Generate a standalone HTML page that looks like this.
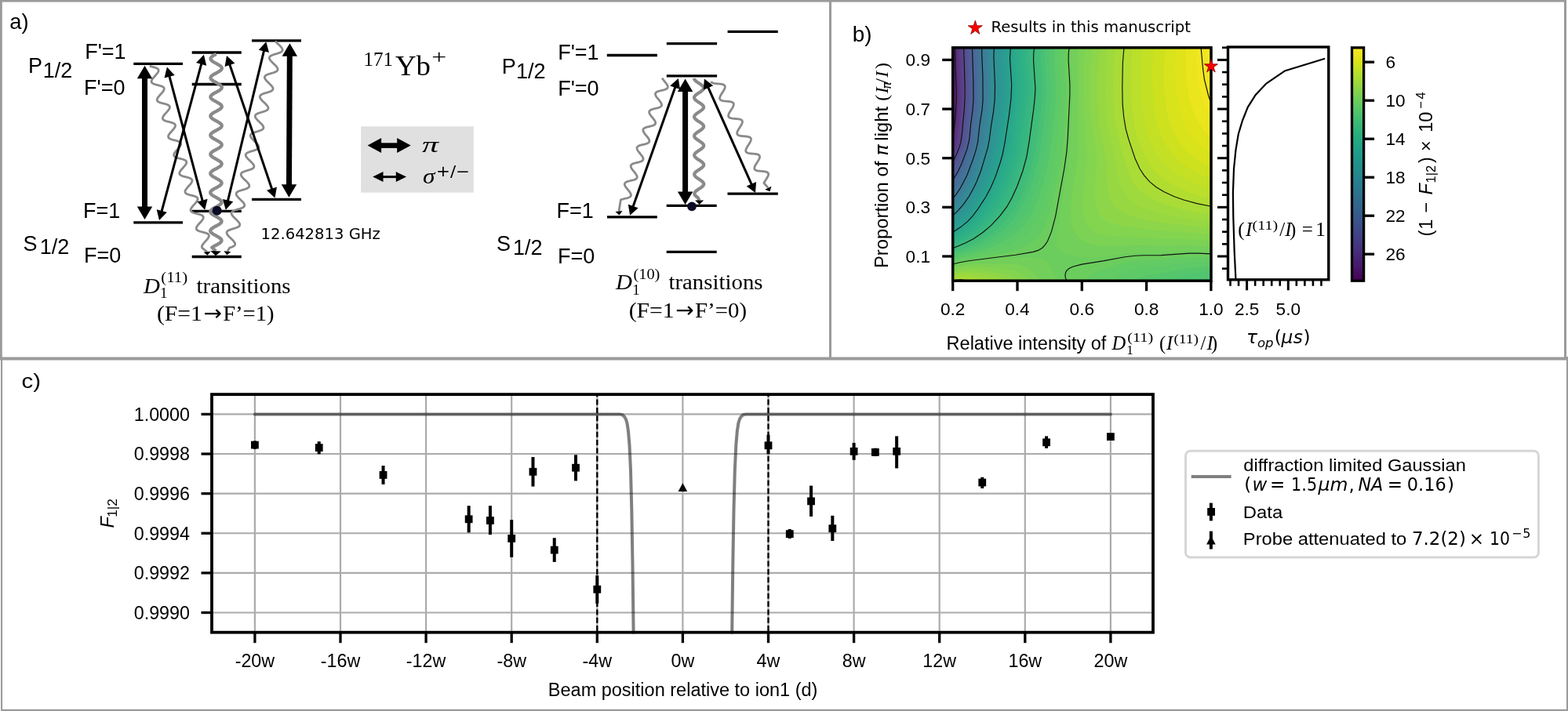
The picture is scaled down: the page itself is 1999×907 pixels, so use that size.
<!DOCTYPE html>
<html><head><meta charset="utf-8"><title>Figure</title>
<style>html,body{margin:0;padding:0;background:#fff;} svg{display:block;}</style>
</head><body>
<svg width="1999" height="907" viewBox="0 0 1999 907">
<rect x="0.00" y="0.00" width="1997.00" height="2.60" fill="#9b9b9b" stroke="none" stroke-width="0" />
<rect x="0.00" y="0.00" width="2.80" height="459.00" fill="#9b9b9b" stroke="none" stroke-width="0" />
<rect x="1057.00" y="0.00" width="3.00" height="459.00" fill="#9b9b9b" stroke="none" stroke-width="0" />
<rect x="1994.00" y="0.00" width="3.00" height="459.00" fill="#9b9b9b" stroke="none" stroke-width="0" />
<rect x="0.00" y="455.50" width="1999.00" height="4.00" fill="#9b9b9b" stroke="none" stroke-width="0" />
<rect x="1.00" y="455.00" width="2.10" height="452.00" fill="#9b9b9b" stroke="none" stroke-width="0" />
<rect x="1997.00" y="455.00" width="2.00" height="452.00" fill="#9b9b9b" stroke="none" stroke-width="0" />
<rect x="1.00" y="904.80" width="1998.00" height="2.20" fill="#9b9b9b" stroke="none" stroke-width="0" />
<line x1="324.90" y1="503.10" x2="324.90" y2="806.70" stroke="#ababab" stroke-width="2.2" />
<line x1="434.00" y1="503.10" x2="434.00" y2="806.70" stroke="#ababab" stroke-width="2.2" />
<line x1="543.10" y1="503.10" x2="543.10" y2="806.70" stroke="#ababab" stroke-width="2.2" />
<line x1="652.20" y1="503.10" x2="652.20" y2="806.70" stroke="#ababab" stroke-width="2.2" />
<line x1="761.30" y1="503.10" x2="761.30" y2="806.70" stroke="#ababab" stroke-width="2.2" />
<line x1="870.40" y1="503.10" x2="870.40" y2="806.70" stroke="#ababab" stroke-width="2.2" />
<line x1="979.50" y1="503.10" x2="979.50" y2="806.70" stroke="#ababab" stroke-width="2.2" />
<line x1="1088.60" y1="503.10" x2="1088.60" y2="806.70" stroke="#ababab" stroke-width="2.2" />
<line x1="1197.70" y1="503.10" x2="1197.70" y2="806.70" stroke="#ababab" stroke-width="2.2" />
<line x1="1306.80" y1="503.10" x2="1306.80" y2="806.70" stroke="#ababab" stroke-width="2.2" />
<line x1="1415.90" y1="503.10" x2="1415.90" y2="806.70" stroke="#ababab" stroke-width="2.2" />
<line x1="270.00" y1="528.40" x2="1470.00" y2="528.40" stroke="#ababab" stroke-width="2.2" />
<line x1="270.00" y1="579.02" x2="1470.00" y2="579.02" stroke="#ababab" stroke-width="2.2" />
<line x1="270.00" y1="629.64" x2="1470.00" y2="629.64" stroke="#ababab" stroke-width="2.2" />
<line x1="270.00" y1="680.26" x2="1470.00" y2="680.26" stroke="#ababab" stroke-width="2.2" />
<line x1="270.00" y1="730.88" x2="1470.00" y2="730.88" stroke="#ababab" stroke-width="2.2" />
<line x1="270.00" y1="781.50" x2="1470.00" y2="781.50" stroke="#ababab" stroke-width="2.2" />
<path d="M324.9,528.4 L790.0,528.4 L793.5,529.2 L796.0,531.5 L798.0,535.0 L799.5,540.0 L801.0,550.0 L802.5,568.0 L804.0,600.0 L805.3,650.0 L806.5,720.0 L807.6,806.7" fill="none" stroke="#000" stroke-opacity="0.5" stroke-width="4" stroke-linecap="round" stroke-linejoin="round"/>
<path d="M933.2,806.7 L934.3,720.0 L935.5,650.0 L936.8,600.0 L938.3,568.0 L939.8,550.0 L941.3,540.0 L942.8,535.0 L944.8,531.5 L947.3,529.2 L950.8,528.4 L1415.9,528.4" fill="none" stroke="#000" stroke-opacity="0.5" stroke-width="4" stroke-linecap="round" stroke-linejoin="round"/>
<line x1="761.30" y1="503.10" x2="761.30" y2="806.70" stroke="#000" stroke-width="2.3" stroke-dasharray="7,3.3" stroke-dashoffset="3.8"/>
<line x1="979.50" y1="503.10" x2="979.50" y2="806.70" stroke="#000" stroke-width="2.3" stroke-dasharray="7,3.3" stroke-dashoffset="3.8"/>
<rect x="322.90" y="562.50" width="4.00" height="10.30" fill="#000" stroke="none" stroke-width="0" />
<rect x="320.00" y="562.70" width="9.80" height="9.80" fill="#000" stroke="none" stroke-width="0" />
<rect x="404.73" y="563.20" width="4.00" height="16.10" fill="#000" stroke="none" stroke-width="0" />
<rect x="401.83" y="566.20" width="9.80" height="9.80" fill="#000" stroke="none" stroke-width="0" />
<rect x="486.55" y="594.00" width="4.00" height="23.90" fill="#000" stroke="none" stroke-width="0" />
<rect x="483.65" y="601.00" width="9.80" height="9.80" fill="#000" stroke="none" stroke-width="0" />
<rect x="595.65" y="645.20" width="4.00" height="34.20" fill="#000" stroke="none" stroke-width="0" />
<rect x="592.75" y="657.40" width="9.80" height="9.80" fill="#000" stroke="none" stroke-width="0" />
<rect x="622.92" y="645.20" width="4.00" height="36.90" fill="#000" stroke="none" stroke-width="0" />
<rect x="620.02" y="659.10" width="9.80" height="9.80" fill="#000" stroke="none" stroke-width="0" />
<rect x="650.20" y="663.10" width="4.00" height="47.70" fill="#000" stroke="none" stroke-width="0" />
<rect x="647.30" y="682.00" width="9.80" height="9.80" fill="#000" stroke="none" stroke-width="0" />
<rect x="677.48" y="583.00" width="4.00" height="37.60" fill="#000" stroke="none" stroke-width="0" />
<rect x="674.58" y="596.90" width="9.80" height="9.80" fill="#000" stroke="none" stroke-width="0" />
<rect x="704.75" y="686.20" width="4.00" height="30.70" fill="#000" stroke="none" stroke-width="0" />
<rect x="701.85" y="696.70" width="9.80" height="9.80" fill="#000" stroke="none" stroke-width="0" />
<rect x="732.02" y="580.30" width="4.00" height="33.10" fill="#000" stroke="none" stroke-width="0" />
<rect x="729.12" y="591.80" width="9.80" height="9.80" fill="#000" stroke="none" stroke-width="0" />
<rect x="759.30" y="734.00" width="4.00" height="35.90" fill="#000" stroke="none" stroke-width="0" />
<rect x="756.40" y="746.90" width="9.80" height="9.80" fill="#000" stroke="none" stroke-width="0" />
<rect x="977.50" y="554.70" width="4.00" height="24.60" fill="#000" stroke="none" stroke-width="0" />
<rect x="974.60" y="563.40" width="9.80" height="9.80" fill="#000" stroke="none" stroke-width="0" />
<rect x="1004.77" y="675.00" width="4.00" height="12.00" fill="#000" stroke="none" stroke-width="0" />
<rect x="1001.88" y="676.20" width="9.80" height="9.80" fill="#000" stroke="none" stroke-width="0" />
<rect x="1032.05" y="619.60" width="4.00" height="39.30" fill="#000" stroke="none" stroke-width="0" />
<rect x="1029.15" y="634.50" width="9.80" height="9.80" fill="#000" stroke="none" stroke-width="0" />
<rect x="1059.33" y="657.80" width="4.00" height="32.20" fill="#000" stroke="none" stroke-width="0" />
<rect x="1056.42" y="669.30" width="9.80" height="9.80" fill="#000" stroke="none" stroke-width="0" />
<rect x="1086.60" y="564.90" width="4.00" height="21.90" fill="#000" stroke="none" stroke-width="0" />
<rect x="1083.70" y="570.90" width="9.80" height="9.80" fill="#000" stroke="none" stroke-width="0" />
<rect x="1113.88" y="571.70" width="4.00" height="10.30" fill="#000" stroke="none" stroke-width="0" />
<rect x="1110.97" y="572.00" width="9.80" height="9.80" fill="#000" stroke="none" stroke-width="0" />
<rect x="1141.15" y="556.40" width="4.00" height="41.00" fill="#000" stroke="none" stroke-width="0" />
<rect x="1138.25" y="570.90" width="9.80" height="9.80" fill="#000" stroke="none" stroke-width="0" />
<rect x="1250.25" y="608.70" width="4.00" height="14.30" fill="#000" stroke="none" stroke-width="0" />
<rect x="1247.35" y="610.60" width="9.80" height="9.80" fill="#000" stroke="none" stroke-width="0" />
<rect x="1332.07" y="556.40" width="4.00" height="15.40" fill="#000" stroke="none" stroke-width="0" />
<rect x="1329.17" y="559.40" width="9.80" height="9.80" fill="#000" stroke="none" stroke-width="0" />
<rect x="1411.00" y="552.20" width="9.80" height="9.80" fill="#000" stroke="none" stroke-width="0" />
<polygon points="870.4,616.2 864.6,627.1 876.2,627.1" fill="#000"/>
<rect x="270.00" y="503.10" width="1200.00" height="303.60" fill="none" stroke="#000" stroke-width="3.8" />
<line x1="324.90" y1="806.70" x2="324.90" y2="820.20" stroke="#000" stroke-width="3.3" />
<text x="324.9" y="851.0" text-anchor="middle" style="font-family:'Liberation Sans', Arial, sans-serif;font-size:23.3px;" fill="#000" >-20w</text>
<line x1="434.00" y1="806.70" x2="434.00" y2="820.20" stroke="#000" stroke-width="3.3" />
<text x="434.0" y="851.0" text-anchor="middle" style="font-family:'Liberation Sans', Arial, sans-serif;font-size:23.3px;" fill="#000" >-16w</text>
<line x1="543.10" y1="806.70" x2="543.10" y2="820.20" stroke="#000" stroke-width="3.3" />
<text x="543.1" y="851.0" text-anchor="middle" style="font-family:'Liberation Sans', Arial, sans-serif;font-size:23.3px;" fill="#000" >-12w</text>
<line x1="652.20" y1="806.70" x2="652.20" y2="820.20" stroke="#000" stroke-width="3.3" />
<text x="652.2" y="851.0" text-anchor="middle" style="font-family:'Liberation Sans', Arial, sans-serif;font-size:23.3px;" fill="#000" >-8w</text>
<line x1="761.30" y1="806.70" x2="761.30" y2="820.20" stroke="#000" stroke-width="3.3" />
<text x="761.3" y="851.0" text-anchor="middle" style="font-family:'Liberation Sans', Arial, sans-serif;font-size:23.3px;" fill="#000" >-4w</text>
<line x1="870.40" y1="806.70" x2="870.40" y2="820.20" stroke="#000" stroke-width="3.3" />
<text x="870.4" y="851.0" text-anchor="middle" style="font-family:'Liberation Sans', Arial, sans-serif;font-size:23.3px;" fill="#000" >0w</text>
<line x1="979.50" y1="806.70" x2="979.50" y2="820.20" stroke="#000" stroke-width="3.3" />
<text x="979.5" y="851.0" text-anchor="middle" style="font-family:'Liberation Sans', Arial, sans-serif;font-size:23.3px;" fill="#000" >4w</text>
<line x1="1088.60" y1="806.70" x2="1088.60" y2="820.20" stroke="#000" stroke-width="3.3" />
<text x="1088.6" y="851.0" text-anchor="middle" style="font-family:'Liberation Sans', Arial, sans-serif;font-size:23.3px;" fill="#000" >8w</text>
<line x1="1197.70" y1="806.70" x2="1197.70" y2="820.20" stroke="#000" stroke-width="3.3" />
<text x="1197.7" y="851.0" text-anchor="middle" style="font-family:'Liberation Sans', Arial, sans-serif;font-size:23.3px;" fill="#000" >12w</text>
<line x1="1306.80" y1="806.70" x2="1306.80" y2="820.20" stroke="#000" stroke-width="3.3" />
<text x="1306.8" y="851.0" text-anchor="middle" style="font-family:'Liberation Sans', Arial, sans-serif;font-size:23.3px;" fill="#000" >16w</text>
<line x1="1415.90" y1="806.70" x2="1415.90" y2="820.20" stroke="#000" stroke-width="3.3" />
<text x="1415.9" y="851.0" text-anchor="middle" style="font-family:'Liberation Sans', Arial, sans-serif;font-size:23.3px;" fill="#000" >20w</text>
<line x1="256.50" y1="528.40" x2="270.00" y2="528.40" stroke="#000" stroke-width="3.3" />
<text x="242.0" y="536.7" text-anchor="end" style="font-family:'Liberation Sans', Arial, sans-serif;font-size:23.3px;" fill="#000" >1.0000</text>
<line x1="256.50" y1="579.02" x2="270.00" y2="579.02" stroke="#000" stroke-width="3.3" />
<text x="242.0" y="587.3" text-anchor="end" style="font-family:'Liberation Sans', Arial, sans-serif;font-size:23.3px;" fill="#000" >0.9998</text>
<line x1="256.50" y1="629.64" x2="270.00" y2="629.64" stroke="#000" stroke-width="3.3" />
<text x="242.0" y="637.9" text-anchor="end" style="font-family:'Liberation Sans', Arial, sans-serif;font-size:23.3px;" fill="#000" >0.9996</text>
<line x1="256.50" y1="680.26" x2="270.00" y2="680.26" stroke="#000" stroke-width="3.3" />
<text x="242.0" y="688.6" text-anchor="end" style="font-family:'Liberation Sans', Arial, sans-serif;font-size:23.3px;" fill="#000" >0.9994</text>
<line x1="256.50" y1="730.88" x2="270.00" y2="730.88" stroke="#000" stroke-width="3.3" />
<text x="242.0" y="739.2" text-anchor="end" style="font-family:'Liberation Sans', Arial, sans-serif;font-size:23.3px;" fill="#000" >0.9992</text>
<line x1="256.50" y1="781.50" x2="270.00" y2="781.50" stroke="#000" stroke-width="3.3" />
<text x="242.0" y="789.8" text-anchor="end" style="font-family:'Liberation Sans', Arial, sans-serif;font-size:23.3px;" fill="#000" >0.9990</text>
<text x="870.6" y="887.8" text-anchor="middle" style="font-family:'Liberation Sans', Arial, sans-serif;font-size:23.5px;" fill="#000" >Beam position relative to ion1 (d)</text>
<g transform="translate(144.9,673.8) rotate(-90)"><text x="7.4" y="0.0" text-anchor="middle" style="font-family:'Liberation Sans', Arial, sans-serif;font-size:23.5px;font-style:italic;">F</text><text x="25.8" y="3.9" text-anchor="middle" style="font-family:'Liberation Sans', Arial, sans-serif;font-size:17.2px;">1|2</text></g>
<text x="27.6" y="495.1" text-anchor="start" style="font-family:'Liberation Sans', Arial, sans-serif;font-size:25.5px;" textLength="24.5" lengthAdjust="spacingAndGlyphs">c)</text>
<rect x="1511.5" y="575.2" width="449.9" height="135.8" rx="6" ry="6" fill="#fff" stroke="#d6d6d6" stroke-width="3"/>
<line x1="1518.70" y1="608.00" x2="1569.60" y2="608.00" stroke="#808080" stroke-width="4" />
<text x="1585.3" y="601.0" text-anchor="start" style="font-family:'Liberation Sans', Arial, sans-serif;font-size:22px;" textLength="283.5" lengthAdjust="spacingAndGlyphs">diffraction limited Gaussian</text>
<text x="1590.8" y="625.9" text-anchor="middle" style="font-family:'DejaVu Sans', sans-serif;font-size:23px;">(</text>
<text x="1605.9" y="625.9" text-anchor="middle" style="font-family:'DejaVu Sans', sans-serif;font-size:23px;font-style:italic;">w</text>
<text x="1628.7" y="625.9" text-anchor="middle" style="font-family:'DejaVu Sans', sans-serif;font-size:23px;">=</text>
<text x="1662.6" y="625.9" text-anchor="middle" style="font-family:'DejaVu Sans', sans-serif;font-size:23px;" textLength="33" lengthAdjust="spacingAndGlyphs">1.5</text>
<text x="1699.4" y="625.9" text-anchor="middle" style="font-family:'DejaVu Sans', sans-serif;font-size:23px;font-style:italic;" textLength="38" lengthAdjust="spacingAndGlyphs">μm</text>
<text x="1723.2" y="625.9" text-anchor="middle" style="font-family:'DejaVu Sans', sans-serif;font-size:23px;">,</text>
<text x="1747.4" y="625.9" text-anchor="middle" style="font-family:'DejaVu Sans', sans-serif;font-size:23px;font-style:italic;" textLength="32" lengthAdjust="spacingAndGlyphs">NA</text>
<text x="1778.5" y="625.9" text-anchor="middle" style="font-family:'DejaVu Sans', sans-serif;font-size:23px;">=</text>
<text x="1818.8" y="625.9" text-anchor="middle" style="font-family:'DejaVu Sans', sans-serif;font-size:23px;" textLength="50" lengthAdjust="spacingAndGlyphs">0.16</text>
<text x="1849.6" y="625.9" text-anchor="middle" style="font-family:'DejaVu Sans', sans-serif;font-size:23px;">)</text>
<rect x="1541.90" y="641.60" width="4.00" height="22.80" fill="#000" stroke="none" stroke-width="0" />
<rect x="1539.20" y="648.00" width="9.80" height="9.80" fill="#000" stroke="none" stroke-width="0" />
<text x="1584.8" y="661.0" text-anchor="start" style="font-family:'Liberation Sans', Arial, sans-serif;font-size:22px;" textLength="50.5" lengthAdjust="spacingAndGlyphs">Data</text>
<rect x="1541.90" y="677.60" width="4.00" height="22.90" fill="#000" stroke="none" stroke-width="0" />
<polygon points="1543.9,683.5 1538.1,694.4 1549.7,694.4" fill="#000"/>
<text x="1584.8" y="695.0" text-anchor="start" style="font-family:'Liberation Sans', Arial, sans-serif;font-size:22px;" textLength="208.5" lengthAdjust="spacingAndGlyphs">Probe attenuated to</text>
<text x="1834.4" y="695.0" text-anchor="middle" style="font-family:'DejaVu Sans', sans-serif;font-size:23px;" textLength="69" lengthAdjust="spacingAndGlyphs">7.2(2)</text>
<text x="1882.4" y="695.0" text-anchor="middle" style="font-family:'DejaVu Sans', sans-serif;font-size:23px;">×</text>
<text x="1912.0" y="695.0" text-anchor="middle" style="font-family:'DejaVu Sans', sans-serif;font-size:23px;" textLength="26" lengthAdjust="spacingAndGlyphs">10</text>
<text x="1933.6" y="685.6" text-anchor="middle" style="font-family:'DejaVu Sans', sans-serif;font-size:16px;">−</text>
<text x="1946.4" y="685.6" text-anchor="middle" style="font-family:'DejaVu Sans', sans-serif;font-size:16px;">5</text>
<g><rect x="1214.7" y="60.8" width="329.3" height="297.4" fill="#fbe725"/>
<path d="M1215.7 60.8l321.5 0l4.9 32.8l1.9 9.1l0 255.5l-329.3 0l0 -297.4z" fill="#f1e61f"/>
<path d="M1215.7 60.8l308.9 0l2 33.8l3 18.9l2.7 11l2.9 8.9l3.8 8.3l5 8.4l0 208.1l-329.3 0l0 -297.4z" fill="#eae51c"/>
<path d="M1215.7 60.8l296.2 0l0 25.9l.8 14.9l2.3 16.9l3.3 14.9l4 11.9l5.7 11.4l7 9.9l9 9.7l0 181.9l-329.3 0l0 -297.4z" fill="#e0e31a"/>
<path d="M1215.7 60.8l283.3 0l-1 25.9l.7 17.9l3.3 26.8l4.1 17.1l6 14.1l8.2 12.6l10.7 11.5l13 9.9l0 161.6l-329.3 0l0 -297.4z" fill="#d8e31c"/>
<path d="M1215.7 60.8l269.8 0l-1.7 25.9l.5 21.8l3.3 31.9l2.4 10.9l3.2 10l3.5 7.9l4.4 8l5 7l6 6.9l6.2 6l7.7 6l9 5.8l9 4.7l0 144.6l-329.3 0l0 -297.4z" fill="#cee11f"/>
<path d="M1215.7 60.8l255.4 0l-1.5 16.9l-.5 14.9l.3 16.9l1.3 20.9l1.3 12l2 10.9l2.8 9.9l3.8 10l4.5 9.2l5.6 8.7l6.4 7.8l7.3 7.1l8.7 6.8l8.9 5.6l10.9 5.5l11.1 4.6l0 129.7l-329.3 0l0 -297.4z" fill="#c3e025"/>
<path d="M1215.7 60.8l241.4 0l-1.6 14.9l-.5 17.9l.3 25.9l1.2 18.9l1.8 12.9l2.7 11.9l3.9 12l4.6 10.9l5.5 10l6.4 8.9l7.4 8l8.3 6.9l10 6.6l11 5.7l11.9 4.9l14 4.5l0 116.6l-329.3 0l0 -297.4z" fill="#bbdf2a"/>
<path d="M1215.7 60.8l228.2 0l-1.5 14.9l-.5 23.9l.3 26.8l1.4 18l2.1 13.9l3.2 12.9l5.5 15.9l6.2 13.9l5.6 9.4l6.8 8.5l8.1 7.7l9 6.5l11 6.1l13 5.6l13.9 4.6l16 4l0 104.8l-329.3 0l0 -297.4z" fill="#b1dd31"/>
<path d="M1215.7 60.8l216.5 0l-1.4 13.9l-.7 23.9l0 26.9l1 16.9l1.8 13.9l2.3 11.9l11.2 34.8l5.3 12l7.1 10.9l8.4 8.9l9.6 7l13.2 7l15.1 5.9l18 5l20.9 4.4l0 94.1l-306 0l-12.3 -1.6l-11 .6l0 -296.4z" fill="#a9dc36"/>
<path d="M1215.7 60.8l206.3 0l-2 18.9l-.9 22.9l.1 25.8l1.3 18.9l1.9 13l2.8 12.9l10.1 36.8l4.4 12.9l5.5 10.8l6.4 8.1l8.2 7l10.4 6l13.9 5.7l17 5.1l19.9 4.3l23 3.7l0 84.6l-290.8 0l-10.5 -3l-9 -1.5l-10 -.3l-9 1l0 -293.6z" fill="#9eda3d"/>
<path d="M1215.7 60.8l196.8 0l-2.4 18.9l-1 17.9l-.1 28.8l1.2 20.9l2.6 17.9l7.5 31.9l5 27.8l2.3 9l2.6 6.9l4.6 8l6.5 7l8.9 5.9l11.3 5l15.6 4.8l18 4l22 3.6l26.9 3.5l0 75.6l-275.5 0l-16.9 -5.1l-13 -2.4l-11.9 -.5l-12 1.6l0 -291z" fill="#97d842"/>
<path d="M1215.7 60.8l187.6 0l-2.6 16.9l-1 14.9l-.2 30.9l.8 21.8l2.4 20.9l7.3 34.8l1.3 29.9l.9 9.9l1.7 8l2.4 7l4.3 6.9l6.5 6l8.1 4.4l12 4.1l17 3.9l20.9 3.5l58.9 6.4l0 67.2l-258.8 0l-7.5 -3l-8.1 -2.4l-14 -3.3l-10 -1.7l-15.9 -.8l-7 .6l-8 1.5l0 -288.3z" fill="#8dd649"/>
<path d="M1215.7 60.8l177.9 0l-2.1 13.9l-.9 13l.3 54.7l1.9 24.8l5.8 33.8l-.3 9l-2.3 27.8l.1 15l1.6 10.9l3.1 9l4.2 5.9l5.1 4l7.1 3l10 2.4l18.1 2.6l30.8 3.4l67.9 5.1l0 59.1l-244.2 0l-7.3 -4.5l-7.9 -3.1l-11 -2.7l-15 -2.5l-13 -1.4l-10.9 -.3l-10 .7l-10 2l0 -285.6z" fill="#83d44f"/>
<path d="M1215.7 60.8l168.2 0l-1.5 10.9l-.6 11l.3 62.6l.7 18.9l2.6 27.9l.3 8.9l-.7 10l-4.2 31.8l-.8 16.9l.4 8l1 6.9l1.6 6l2.2 5l4.5 6l5.6 4.3l7 2.9l9 1.8l12 1l58.8 2.6l36 1l25.9 1.6l0 51.4l-231.5 0l-7 -6.6l-6 -4l-7 -2.6l-9.9 -2l-19 -1.9l-22 -.9l-13.9 .8l-13 2.6l0 -282.8z" fill="#7cd254"/>
<path d="M1215.7 60.8l158.9 0l-1.1 8l-.4 9.9l1.1 34.8l-.7 40.8l.3 40.8l-1.4 14.9l-5.7 38.8l-1.5 19.9l.1 8.9l.8 7l1.4 6l2.5 5.9l5.4 6.9l6.9 4.8l9 3.4l11 1.9l12 .5l32.9 -1.1l32.9 .6l33 -.5l30.9 1.3l0 43.9l-216.8 0l-10.3 -10.9l-5.4 -4.5l-7 -3.6l-8 -1.9l-18.9 -1.2l-34 .4l-14.9 1.4l-14 2.9l0 -280z" fill="#72cf59"/>
<path d="M1215.7 60.8l150.3 0l-.8 7l-.3 8.9l1.6 30.8l.1 12l-2.8 68.6l-2.2 19.9l-8.5 50.7l-4.6 31.9l-1.2 11.9l0 7l.8 4.9l1.7 4l2.6 3l5.1 3l7.9 2.2l10 1.4l12.9 .5l18 -.9l29.9 -3.9l13 -1.1l30.9 -.1l36 -2l27.9 .9l0 36.8l-195.1 0l-4.4 -7l-6.1 -11.6l-3.1 -4.3l-2.9 -2.3l-3 -1.7l-8.9 -2.3l-15 -.9l-25.9 1.4l-43.9 4.2l-11 1.8l-10 2.5l0 -277.2z" fill="#6bcd5d"/>
<path d="M1215.7 60.8l142.6 0l-.7 7l-.2 8.9l2 38.8l-.7 19.9l-2.9 42.8l-1.8 15.9l-2.9 18.9l-6.4 31.8l-6.1 25.9l-5.3 14.9l-6.3 11.9l-5.5 7l-6 5.2l-7 4.2l-9 3.7l-9.8 2.8l-13.5 3l-18.6 3.6l-26.9 4.4l-16 3.8l0 -274.4zM1506.1 328.4l17.9 -.9l20 .6l0 30.1l-159.3 0l1.8 -3l2.9 -3l8.9 -5.5l13.8 -5.4l21.1 -6.3l17 -3l29.9 -1l25.9 -2.6z" fill="#63cb63"/>
<path d="M1215.7 60.8l135.7 0l-.9 15.9l2.1 38.8l-.9 19.9l-3.4 38.8l-2.3 18.9l-3.2 18.9l-5.8 25.8l-5.8 20.9l-5.6 15l-6.4 11.9l-5.8 7.9l-6.9 7.1l-8 5.9l-10 5.4l-11.5 4.5l-15.4 4.8l-34.9 8l-12 3.3l0 -271.7zM1524.0 334.3l20 .2l0 23.7l-126.8 0l6.1 -4.8l7.1 -4.2l8.8 -3.9l9 -2.8l8 -1.2l24.9 -2l28 -3.8l14.4 -1.2z" fill="#5dc967"/>
<path d="M1215.7 60.8l129.3 0l-.9 8l-.1 8.9l2.1 37.8l-1 19.9l-3.4 33.8l-2.8 21.9l-3.3 18.9l-5 20.9l-6 19.9l-5.8 14.9l-6.3 11.9l-6.3 9l-7.7 8.2l-9 7.2l-9.9 6l-11.6 5.4l-13.2 5l-40.1 11.3l0 -268.9zM1524.0 341.3l10 -.6l10 .2l0 17.3l-98.8 0l7 -3.5l9 -2.6l46.9 -8.7l15.5 -2.1z" fill="#55c66c"/>
<path d="M1215.7 60.8l123.2 0l-.8 8l-.2 8.9l2.2 36.8l-.8 16.9l-3 27.9l-3.7 28.8l-3.3 18.9l-4.4 17.9l-5.9 18.9l-5.8 14.9l-6.1 12l-6.7 9.9l-7.9 8.9l-9.2 8l-9.7 6.7l-11.6 6.3l-11.4 4.9l-35.9 11.6l0 -266.2zM1528.0 348.2l8 -.7l8 .1l0 10.6l-58.5 0l24.6 -6.7l17.2 -3.2z" fill="#50c470"/>
<path d="M1215.7 60.8l117.5 0l-.9 8l-.1 8.9l2.2 35.8l-.7 14.9l-2.4 21.9l-4.5 34.8l-3.5 19.9l-4.3 16.9l-5.8 17.9l-5.5 14l-6 11.9l-6.5 9.9l-7.5 9l-9.1 8.6l-10 7.6l-11 6.7l-11 5.4l-10.9 4.3l-21 7.1l0 -263.5zM1539.0 355.2l5 .1l0 2.9l-22.9 0l8.9 -2l8.2 -1z" fill="#49c174"/>
<path d="M1215.7 60.8l112 0l-.8 8l-.2 8.9l2.3 34.8l-.6 13l-1.8 17.9l-5.3 39.7l-3.2 18.9l-3.8 15l-5.5 16.9l-5.8 14.9l-5.8 11.9l-6.2 10l-7.4 9.3l-9.5 9.6l-9.6 7.9l-10.4 7l-10.9 6l-10.5 4.5l-18 6.6l0 -260.8z" fill="#42bd78"/>
<path d="M1215.7 60.8l106.9 0l-.9 8l-.2 8.9l2.4 34.8l-.7 13l-2 17.9l-5.4 39.7l-3.1 17.9l-3.6 14l-5.2 15.9l-5.5 13.9l-5.7 11.9l-5.9 10l-6.8 8.9l-9.1 10l-10 8.9l-10.3 7.5l-10 5.9l-9.5 4.5l-16.4 6.4l0 -258z" fill="#3ebb7b"/>
<path d="M1215.7 60.8l101.9 0l-.8 8l-.2 8.9l2.4 33.8l-.7 13l-1.7 15.9l-5.6 40.8l-3.1 17.9l-3.3 12.9l-4.5 13.9l-5.3 13.9l-5.5 12l-6.2 10.9l-6.5 9l-9.4 10.9l-9.3 9l-10.2 7.9l-9.4 6l-9.6 4.8l-14 5.8l0 -255.3z" fill="#39b87e"/>
<path d="M1215.7 60.8l97.3 0l-.9 8l-.2 8.9l2.3 34.8l-.6 12l-1.9 16.9l-5.6 39.8l-2.9 16.9l-3 11.9l-4.2 12.9l-4.9 13l-5.4 11.9l-5.9 10.9l-6.8 10l-8.9 10.9l-8.7 9l-9.5 7.9l-8.8 6l-9.1 5l-13.3 5.9l0 -252.6z" fill="#35b581"/>
<path d="M1215.7 60.8l92.8 0l-.9 8l-.1 8.9l2.2 34.8l-.6 12l-1.7 15.9l-8.5 55.7l-2.6 10.9l-3.7 11.9l-4.8 13l-5.2 11.9l-5.8 11l-6.4 9.9l-9.1 11.9l-8.1 9l-8.6 7.7l-8.5 6.2l-9.4 5.5l-12 5.7l0 -249.9z" fill="#31b284"/>
<path d="M1215.7 60.8l88.5 0l-.8 8l-.2 8.9l2.2 34.8l-.5 12l-1.8 15.9l-8.4 54.7l-2.3 9.9l-3.4 11l-5 13.9l-4.7 10.9l-5.7 11l-6.2 9.9l-9.4 12.9l-7.7 9l-7.4 7l-8.2 6.3l-9 5.5l-11 5.6l0 -247.2z" fill="#2eb086"/>
<path d="M1215.7 60.8l84.5 0l-.8 8l-.2 8.9l2.2 34.8l-.6 12l-1.7 15.9l-8.3 53.7l-5 18.9l-9.1 23.9l-5.4 10.9l-6.5 10.9l-9.7 14l-7.4 8.9l-6.1 6l-7.9 6.4l-8.4 5.5l-10.6 5.8l0 -244.5z" fill="#2cac88"/>
<path d="M1215.7 60.8l80.7 0l-.9 8l-.1 8.9l2.2 34.8l-.6 12l-1.8 15.9l-8.1 52.7l-4.7 17.9l-8.9 23.9l-4.8 9.9l-5.6 10l-10 14.9l-6.9 8.9l-6.6 6.8l-6.9 5.8l-8 5.6l-10 5.7l0 -241.7z" fill="#2aaa8a"/>
<path d="M1215.7 60.8l77 0l-.9 15.9l2.2 34.8l-.6 13l-1.7 14.9l-8 51.7l-3.9 15.9l-8.9 24.9l-5 10.9l-5.6 10l-9.8 14.9l-6.6 8.9l-5.5 6l-6.8 6l-7.9 5.7l-9 5.5l0 -239z" fill="#29a68c"/>
<path d="M1215.7 60.8l73.5 0l-.8 15.9l2.1 34.8l-.6 13l-1.6 14.9l-7.9 50.7l-3.9 15.9l-8.8 24.9l-4.5 9.9l-5.4 10l-10.2 15.9l-5.9 7.9l-5.3 6l-5.7 5.3l-7.5 5.7l-8.5 5.4l0 -236.2z" fill="#29a48d"/>
<path d="M1215.7 60.8l70.2 0l-.8 15.9l2.1 34.8l-.5 12l-1.5 14.9l-7.6 48.7l-3.7 15.9l-8.8 25.9l-4.4 9.9l-5.2 10l-15 22.9l-5 5.9l-5.8 5.6l-6.7 5.4l-8.3 5.6l0 -233.4z" fill="#29a18f"/>
<path d="M1215.7 60.8l67.1 0l-.8 14.9l2 36.8l-.5 12l-1.3 12.9l-7.4 47.7l-3.9 16.9l-7.9 23.9l-4.6 11l-5 9.9l-14 21.9l-4.8 5.9l-5.9 6l-14 10.8l0 -230.6z" fill="#2a9d90"/>
<path d="M1215.7 60.8l64 0l-.6 14.9l1.8 36.8l-.4 12l-1.3 12.9l-7.1 46.7l-4 16.9l-7.8 23.9l-4.5 11l-5 9.9l-12.5 19.9l-4.6 6l-5.6 5.9l-13.4 10.9l0 -227.7z" fill="#2b9b91"/>
<path d="M1215.7 60.8l61.2 0l-.7 13.9l1.8 38.8l-1.6 23.9l-7 45.7l-3.7 16l-7.5 23.8l-8.7 19.9l-11.4 18.9l-5.2 7l-5.3 5.9l-12.9 11.1l0 -224.9z" fill="#2c9792"/>
<path d="M1215.7 60.8l58.4 0l-.6 12.9l1.8 39.8l-1.4 22.9l-6.7 44.8l-3.2 13.9l-7.8 25.8l-8.5 19.9l-10 17.2l-10.6 13.7l-12.4 11.1l0 -222z" fill="#2e9593"/>
<path d="M1215.7 60.8l55.8 0l-.5 12.9l1.7 39.8l-1.4 22.9l-6.5 43.8l-2.8 12.9l-7.7 25.8l-8.3 19.9l-8.9 16l-10.5 13.9l-11.9 11.2l0 -219.1z" fill="#309294"/>
<path d="M1215.7 60.8l53.2 0l-.4 11.9l1.6 41.8l-1.2 21.9l-6.4 43.8l-2.6 11.9l-7.4 24.9l-8.1 19.9l-8.1 14.9l-10.1 13.9l-11.5 11.3l0 -216.2z" fill="#318f95"/>
<path d="M1215.7 60.8l50.8 0l-.4 10.9l1.6 43.8l-1.1 20.9l-6.4 43.8l-2.4 10.9l-7 23.9l-7.9 19.9l-7.3 13.9l-9.9 14l-11 11.3l0 -213.3z" fill="#338c95"/>
<path d="M1215.7 60.8l48.5 0l-.3 9.9l1.2 26.9l.3 19.9l-1.2 19.9l-6.1 42.8l-2.4 10.9l-6.8 22.9l-7.4 18.9l-7.2 13.9l-9.6 13.9l-10 10.5l0 -210.4z" fill="#358a96"/>
<path d="M1215.7 60.8l46.3 0l-.3 9.9l1.2 25.9l.3 21.9l-1.1 18.9l-6.1 42.8l-2.4 10.9l-6.2 20.9l-7.3 18.9l-7 13.9l-8.8 12.9l-9.6 10.6l0 -207.5z" fill="#368796"/>
<path d="M1215.7 60.8l44.2 0l-.3 9l1.2 25.8l.3 23.9l-1.1 17.9l-5.9 42.8l-2.2 9.9l-5.9 19.9l-6.3 16.9l-7.3 14.9l-8.4 13l-9.3 10.6l0 -204.6z" fill="#388496"/>
<path d="M1215.7 60.8l42.1 0l-.2 9l1.1 24.8l.4 25.9l-1 16.9l-3.4 21.9l-2.3 19.9l-2.4 10.9l-5 16.9l-5.7 15.9l-7.5 15.9l-8.1 13l-9 10.6l0 -201.6z" fill="#3a8197"/>
<path d="M1215.7 60.8l40.1 0l-.2 8l1.1 24.8l.4 27.9l-.9 15.9l-3.4 21.9l-2 17.9l-1.6 8.9l-3 11l-6.6 19.9l-7.3 16.9l-8.6 14.5l-9 11.1l0 -198.7z" fill="#3c7e97"/>
<path d="M1215.7 60.8l38.2 0l1.3 60.7l-.9 15.9l-3.3 21.9l-1.9 17.9l-3.8 16.9l-6.8 20.9l-6.8 15.9l-8 14l-9 11.7l0 -195.8z" fill="#3d7c97"/>
<path d="M1215.7 60.8l36.3 0l1.4 60.7l-.9 15.9l-3.3 21.9l-1.7 16.9l-3.3 15.9l-6.9 20.9l-6.2 14.9l-7.7 13.9l-8.7 11.8l0 -192.8z" fill="#3f7997"/>
<path d="M1215.7 60.8l34.5 0l1.4 61.7l-.8 14.9l-3.3 21.9l-1.6 16.9l-3.1 14.9l-6.9 20.9l-5.8 13.9l-7.1 12.9l-8.3 11.8l0 -189.8z" fill="#417697"/>
<path d="M1215.7 60.8l32.8 0l1.4 61.7l-.8 14.9l-3.2 21.9l-1.6 16.9l-2.9 13.9l-6.6 19.9l-5.3 12.9l-6.8 13l-8 11.6l0 -186.7z" fill="#437397"/>
<path d="M1215.7 60.8l31.1 0l1.4 61.7l-.8 14.9l-3.1 21.9l-1.5 15.9l-2.7 13.9l-6.6 19.9l-4.9 11.9l-6.2 12l-7.7 11.5l0 -183.6z" fill="#457097"/>
<path d="M1215.7 60.8l29.4 0l1.5 60.7l-1 17.9l-2.9 19.9l-1.6 17.9l-2.3 10.9l-6.3 18.9l-4.8 11.9l-6 11.6l-7 10.7l0 -180.4z" fill="#476d97"/>
<path d="M1215.7 60.8l27.8 0l1.5 60.7l-1 17.9l-2.8 19.9l-1.6 17.9l-2 9.9l-6 17.9l-4.8 12l-5.6 10.9l-6.5 10.2l0 -177.3z" fill="#496a97"/>
<path d="M1215.7 60.8l26.2 0l1.5 60.7l-1 17.9l-2.7 19.9l-1.5 16.9l-1.8 9.9l-3.2 10l-6.8 17.9l-5.5 10.9l-6.2 10l0 -174.1z" fill="#4a6797"/>
<path d="M1215.7 60.8l24.7 0l1.5 60.7l-1 17.9l-2.6 19.9l-1.5 16.9l-1.7 8.9l-2.7 9l-6.9 17.9l-4.8 9.9l-6 9.9l0 -171z" fill="#4d6396"/>
<path d="M1215.7 60.8l23.2 0l1.5 59.7l-.9 17.9l-2.7 20.9l-1.3 15.9l-1.5 8.9l-2.7 9l-6.6 16.9l-4.8 9.9l-5.2 8.7l0 -167.8z" fill="#4e6196"/>
<path d="M1215.7 60.8l21.7 0l1.5 59.7l-1 18.9l-2.5 19.9l-1.3 15.9l-1.6 8.9l-2.7 9l-6.1 15.5l-4.1 8.4l-4.9 8.5l0 -164.7z" fill="#505d95"/>
<path d="M1215.7 60.8l20.2 0l1.5 59.7l-1 18.9l-3.6 34.8l-1.4 8.9l-2.7 9l-5.5 13.9l-3.8 8l-4.7 8.3l0 -161.5z" fill="#525a94"/>
<path d="M1215.7 60.8l18.7 0l1.5 59.7l-.9 18.9l-3.5 34.8l-1.3 7.9l-2.5 8.9l-5 12.5l-8 15.7l0 -158.4z" fill="#545693"/>
<path d="M1215.7 60.8l17.2 0l1.6 58.7l-.9 18.9l-4.6 42.8l-1.8 6.9l-3 8l-4.7 10.9l-4.8 9l0 -155.2z" fill="#555392"/>
<path d="M1215.7 60.8l15.8 0l1.5 58.7l-.9 19.9l-4.4 41.8l-4.1 12.9l-4.9 11.3l-4 7.5l0 -152.1z" fill="#564f90"/>
<path d="M1215.7 60.8l14.3 0l1.6 58.7l-.9 19.9l-4.2 40.8l-3.6 11.9l-8.2 17.7l0 -149z" fill="#584b8e"/>
<path d="M1215.7 60.8l12.8 0l1.6 58.7l-.8 19.9l-4 39.8l-3 10.9l-7.6 16.6l0 -145.9z" fill="#58478c"/>
<path d="M1215.7 60.8l11.4 0l1.6 59.7l-.9 19.9l-3.9 38.8l-2.7 9.9l-6.5 14.3l0 -142.6z" fill="#594389"/>
<path d="M1215.7 60.8l9.9 0l1.6 59.7l-.8 19.9l-3.7 37.8l-2.2 8.9l-5.8 13l0 -139.3z" fill="#5a3f87"/>
<path d="M1215.7 60.8l8.5 0l1.6 59.7l-.8 19.9l-3.5 36.8l-2.1 8.9l-4.7 10.7l0 -136z" fill="#5a3b83"/>
<path d="M1215.7 60.8l7 0l1.6 60.7l-.9 20.9l-3.2 33.8l-1.6 7.9l-3.9 9.4l0 -132.7z" fill="#5a3780"/>
<path d="M1215.7 60.8l5.5 0l1.7 60.7l-.9 20.9l-3 31.8l-1.6 8.9l-2.7 6.9l0 -129.2z" fill="#5a327c"/>
<path d="M1215.7 60.8l4 0l1.7 61.7l-.9 19.9l-2.6 28.8l-1.3 9l-1.9 6.1l0 -125.5z" fill="#592d77"/>
<path d="M1215.7 60.8l2.5 0l1.7 61.7l-1.4 27.8l-2.2 21.9l-1.6 9.4l0 -120.8z" fill="#592974"/>
<path d="M1215.7 60.8l1 0l1.7 62.7l-1.1 23.8l-2.6 25.6l0 -112.1z" fill="#58236f"/>
<path d="M1215.2 61.8l1.7 60.7l-.5 15.9l-1.7 20.5l0 -98.1l.4 0z" fill="#571f6b"/>
<path d="M1214.7 99.6l.7 21.9l-.7 19.9l0 -42.3z" fill="#561a65"/>
<path d="M1531.1 60.8l2.6 27.9l1.8 12.9l5 19.9l3.5 10.2" fill="none" stroke="#111" stroke-width="1.15"/>
<path d="M1433.0 60.8l-1.6 18.9l-.6 31.8l.4 21.9l1.5 15.9l2.5 15l3.5 12.9l8.3 24.8l5.9 13l5.8 8.9l7 8l8.4 6.9l10 6l13 6l12 4.2l16.9 4.6l18 3.7" fill="none" stroke="#111" stroke-width="1.15"/>
<path d="M1236.6 358.2l-11.9 -1.4l-10 .7" fill="none" stroke="#111" stroke-width="1.15"/>
<path d="M1363.1 60.8l-.8 7l-.2 8.9l1.8 30.8l0 13l-2.6 54.7l-1.4 17.9l-2.9 20.9l-11.3 61.6l-5.3 20l-4.8 11.9l-3.2 4.9l-3.9 4.1l-5 2.9l-6.3 2l-22.7 3.8l-59.8 7.5l-11 2l-9 2.3" fill="none" stroke="#111" stroke-width="1.15"/>
<path d="M1359.8 358.2l-1.5 -4l-.4 -3l.8 -3.9l1.7 -2.7l2.9 -2.3l4.3 -2l11.8 -3.2l26.9 -4.2l27.9 -5.1l13 -1.6l11 -.5l21.9 -.1l36 -2.5l11.9 0l16 .8" fill="none" stroke="#111" stroke-width="1.15"/>
<path d="M1318.6 60.8l-.9 8l-.1 8.9l2.3 34.8l-.6 12l-1.6 14.9l-5.7 41.8l-3.2 18.9l-4.9 17.9l-7.2 19.8l-6.3 14l-6.7 11.9l-9.1 11.9l-11.1 12l-10.5 8.9l-11.7 8l-10.6 5.6l-16 6.6" fill="none" stroke="#111" stroke-width="1.15"/>
<path d="M1288.4 60.8l-.9 13.9l2.2 33.8l-.8 17.9l-2.5 20.9l-5.4 34.8l-2.9 15l-2.8 9.9l-6.4 18.9l-5.6 12.9l-6.3 12l-10.3 15.9l-6.7 8.9l-6.3 6.8l-8.8 7.2l-10.2 6.7" fill="none" stroke="#111" stroke-width="1.15"/>
<path d="M1267.3 60.8l-.4 11.9l1.6 36.8l-.4 17.9l-1.6 15l-2.9 17.9l-2.3 17.9l-2.2 10.9l-8.6 28.9l-5.5 13.9l-4.2 8.9l-5.6 10l-6.9 9.9l-6.6 7.7l-7 6.6" fill="none" stroke="#111" stroke-width="1.15"/>
<path d="M1251.8 60.8l-.1 8l1.2 27.8l.2 30.8l-1 12l-3.1 19.9l-2.6 22.8l-2.1 9l-4.1 12.9l-7.5 19.9l-8.3 15.9l-4.7 7.1l-5 6.4" fill="none" stroke="#111" stroke-width="1.15"/>
<path d="M1239.5 60.8l1.3 41.8l.2 23.8l-.8 12l-2.7 20.9l-1.8 18.9l-2.8 11.9l-6.6 17.9l-5.1 10.9l-6.5 11.1" fill="none" stroke="#111" stroke-width="1.15"/>
<path d="M1228.6 60.8l1.5 48.7l0 14l-.7 14.9l-3.1 32.8l-1.2 9l-1.8 6.9l-3.6 9.2l-5 10.4" fill="none" stroke="#111" stroke-width="1.15"/>
<path d="M1217.6 60.8l.3 22.9l1.3 28.8l0 14.9l-1.3 22.9l-3.2 28.3" fill="none" stroke="#111" stroke-width="1.15"/></g>
<rect x="1214.70" y="60.80" width="329.30" height="297.40" fill="none" stroke="#000" stroke-width="3.5" />
<line x1="1201.20" y1="327.00" x2="1214.70" y2="327.00" stroke="#000" stroke-width="3.3" />
<text x="1186.0" y="335.0" text-anchor="end" style="font-family:'Liberation Sans', Arial, sans-serif;font-size:22.6px;" fill="#000" >0.1</text>
<line x1="1201.20" y1="264.35" x2="1214.70" y2="264.35" stroke="#000" stroke-width="3.3" />
<text x="1186.0" y="272.4" text-anchor="end" style="font-family:'Liberation Sans', Arial, sans-serif;font-size:22.6px;" fill="#000" >0.3</text>
<line x1="1201.20" y1="201.70" x2="1214.70" y2="201.70" stroke="#000" stroke-width="3.3" />
<text x="1186.0" y="209.7" text-anchor="end" style="font-family:'Liberation Sans', Arial, sans-serif;font-size:22.6px;" fill="#000" >0.5</text>
<line x1="1201.20" y1="139.05" x2="1214.70" y2="139.05" stroke="#000" stroke-width="3.3" />
<text x="1186.0" y="147.1" text-anchor="end" style="font-family:'Liberation Sans', Arial, sans-serif;font-size:22.6px;" fill="#000" >0.7</text>
<line x1="1201.20" y1="76.40" x2="1214.70" y2="76.40" stroke="#000" stroke-width="3.3" />
<text x="1186.0" y="84.4" text-anchor="end" style="font-family:'Liberation Sans', Arial, sans-serif;font-size:22.6px;" fill="#000" >0.9</text>
<line x1="1214.70" y1="358.20" x2="1214.70" y2="371.20" stroke="#000" stroke-width="3.3" />
<text x="1214.7" y="402.0" text-anchor="middle" style="font-family:'Liberation Sans', Arial, sans-serif;font-size:22.6px;" fill="#000" >0.2</text>
<line x1="1297.00" y1="358.20" x2="1297.00" y2="371.20" stroke="#000" stroke-width="3.3" />
<text x="1297.0" y="402.0" text-anchor="middle" style="font-family:'Liberation Sans', Arial, sans-serif;font-size:22.6px;" fill="#000" >0.4</text>
<line x1="1379.30" y1="358.20" x2="1379.30" y2="371.20" stroke="#000" stroke-width="3.3" />
<text x="1379.3" y="402.0" text-anchor="middle" style="font-family:'Liberation Sans', Arial, sans-serif;font-size:22.6px;" fill="#000" >0.6</text>
<line x1="1461.60" y1="358.20" x2="1461.60" y2="371.20" stroke="#000" stroke-width="3.3" />
<text x="1461.6" y="402.0" text-anchor="middle" style="font-family:'Liberation Sans', Arial, sans-serif;font-size:22.6px;" fill="#000" >0.8</text>
<line x1="1543.90" y1="358.20" x2="1543.90" y2="371.20" stroke="#000" stroke-width="3.3" />
<text x="1543.9" y="402.0" text-anchor="middle" style="font-family:'Liberation Sans', Arial, sans-serif;font-size:22.6px;" fill="#000" >1.0</text>
<polygon points="1543.90,75.60 1545.92,81.82 1552.46,81.82 1547.17,85.66 1549.19,91.88 1543.90,88.04 1538.61,91.88 1540.63,85.66 1535.34,81.82 1541.88,81.82" fill="#ff0000" stroke="#800000" stroke-width="0.8"/>
<polygon points="1243.30,26.20 1245.43,32.76 1252.34,32.76 1246.75,36.82 1248.88,43.39 1243.30,39.33 1237.72,43.39 1239.85,36.82 1234.26,32.76 1241.17,32.76" fill="#ff0000" stroke="#800000" stroke-width="0.8"/>
<text x="1263.5" y="41.1" text-anchor="start" style="font-family:'DejaVu Sans', sans-serif;font-size:19.66px;" fill="#000" >Results in this manuscript</text>
<text x="1086.8" y="53.2" text-anchor="start" style="font-family:'Liberation Sans', Arial, sans-serif;font-size:27px;" textLength="24.8" lengthAdjust="spacingAndGlyphs">b)</text>
<g transform="translate(1132.4,342.0) rotate(-90)"><text x="0.0" y="0.0" text-anchor="start" style="font-family:'Liberation Sans', Arial, sans-serif;font-size:23.8px;">Proportion of</text><text x="150.5" y="0.0" text-anchor="middle" style="font-family:'DejaVu Sans', sans-serif;font-size:23.5px;font-style:italic;">π</text><text x="184.2" y="0.0" text-anchor="middle" style="font-family:'Liberation Sans', Arial, sans-serif;font-size:23.8px;">light</text><text x="217.2" y="0.0" text-anchor="middle" style="font-family:'Liberation Serif', 'DejaVu Serif', serif;font-size:24px;">(</text><text x="226.8" y="0.0" text-anchor="middle" style="font-family:'Liberation Serif', 'DejaVu Serif', serif;font-size:24px;font-style:italic;">I</text><text x="233.0" y="3.5" text-anchor="middle" style="font-family:'DejaVu Sans', sans-serif;font-size:15px;font-style:italic;">π</text><text x="238.7" y="0.0" text-anchor="middle" style="font-family:'Liberation Serif', 'DejaVu Serif', serif;font-size:24px;">/</text><text x="247.3" y="0.0" text-anchor="middle" style="font-family:'Liberation Serif', 'DejaVu Serif', serif;font-size:24px;font-style:italic;">I</text><text x="258.0" y="0.0" text-anchor="middle" style="font-family:'Liberation Serif', 'DejaVu Serif', serif;font-size:24px;">)</text></g>
<text x="1206.6" y="445.8" text-anchor="start" style="font-family:'Liberation Sans', Arial, sans-serif;font-size:23.5px;">Relative intensity of</text>
<text x="1426.4" y="445.8" text-anchor="middle" style="font-family:'Liberation Serif', 'DejaVu Serif', serif;font-size:24.5px;font-style:italic;">D</text>
<text x="1440.4" y="451.8" text-anchor="middle" style="font-family:'Liberation Serif', 'DejaVu Serif', serif;font-size:17px;">1</text>
<text x="1453.7" y="436.0" text-anchor="middle" style="font-family:'Liberation Serif', 'DejaVu Serif', serif;font-size:17px;" textLength="33" lengthAdjust="spacingAndGlyphs">(11)</text>
<text x="1482.2" y="445.8" text-anchor="middle" style="font-family:'Liberation Serif', 'DejaVu Serif', serif;font-size:24.5px;">(</text>
<text x="1491.0" y="445.8" text-anchor="middle" style="font-family:'Liberation Serif', 'DejaVu Serif', serif;font-size:24.5px;font-style:italic;">I</text>
<text x="1512.2" y="437.5" text-anchor="middle" style="font-family:'Liberation Serif', 'DejaVu Serif', serif;font-size:17px;" textLength="31.5" lengthAdjust="spacingAndGlyphs">(11)</text>
<text x="1533.8" y="445.8" text-anchor="middle" style="font-family:'Liberation Serif', 'DejaVu Serif', serif;font-size:24.5px;">/</text>
<text x="1542.6" y="445.8" text-anchor="middle" style="font-family:'Liberation Serif', 'DejaVu Serif', serif;font-size:24.5px;font-style:italic;">I</text>
<text x="1548.0" y="445.8" text-anchor="middle" style="font-family:'Liberation Serif', 'DejaVu Serif', serif;font-size:24.5px;">)</text>
<rect x="1565.50" y="60.00" width="128.30" height="296.80" fill="none" stroke="#000" stroke-width="3.4" />
<line x1="1558.00" y1="342.66" x2="1565.50" y2="342.66" stroke="#000" stroke-width="2.6" />
<line x1="1552.00" y1="327.00" x2="1565.50" y2="327.00" stroke="#000" stroke-width="3.0" />
<line x1="1558.00" y1="311.34" x2="1565.50" y2="311.34" stroke="#000" stroke-width="2.6" />
<line x1="1558.00" y1="295.68" x2="1565.50" y2="295.68" stroke="#000" stroke-width="2.6" />
<line x1="1558.00" y1="280.01" x2="1565.50" y2="280.01" stroke="#000" stroke-width="2.6" />
<line x1="1552.00" y1="264.35" x2="1565.50" y2="264.35" stroke="#000" stroke-width="3.0" />
<line x1="1558.00" y1="248.69" x2="1565.50" y2="248.69" stroke="#000" stroke-width="2.6" />
<line x1="1558.00" y1="233.02" x2="1565.50" y2="233.02" stroke="#000" stroke-width="2.6" />
<line x1="1558.00" y1="217.36" x2="1565.50" y2="217.36" stroke="#000" stroke-width="2.6" />
<line x1="1552.00" y1="201.70" x2="1565.50" y2="201.70" stroke="#000" stroke-width="3.0" />
<line x1="1558.00" y1="186.04" x2="1565.50" y2="186.04" stroke="#000" stroke-width="2.6" />
<line x1="1558.00" y1="170.37" x2="1565.50" y2="170.37" stroke="#000" stroke-width="2.6" />
<line x1="1558.00" y1="154.71" x2="1565.50" y2="154.71" stroke="#000" stroke-width="2.6" />
<line x1="1552.00" y1="139.05" x2="1565.50" y2="139.05" stroke="#000" stroke-width="3.0" />
<line x1="1558.00" y1="123.39" x2="1565.50" y2="123.39" stroke="#000" stroke-width="2.6" />
<line x1="1558.00" y1="107.72" x2="1565.50" y2="107.72" stroke="#000" stroke-width="2.6" />
<line x1="1558.00" y1="92.06" x2="1565.50" y2="92.06" stroke="#000" stroke-width="2.6" />
<line x1="1552.00" y1="76.40" x2="1565.50" y2="76.40" stroke="#000" stroke-width="3.0" />
<line x1="1558.00" y1="60.74" x2="1565.50" y2="60.74" stroke="#000" stroke-width="2.6" />
<line x1="1568.52" y1="356.80" x2="1568.52" y2="364.80" stroke="#000" stroke-width="2.6" />
<line x1="1579.06" y1="356.80" x2="1579.06" y2="364.80" stroke="#000" stroke-width="2.6" />
<line x1="1589.60" y1="356.80" x2="1589.60" y2="370.30" stroke="#000" stroke-width="3.0" />
<line x1="1600.14" y1="356.80" x2="1600.14" y2="364.80" stroke="#000" stroke-width="2.6" />
<line x1="1610.68" y1="356.80" x2="1610.68" y2="364.80" stroke="#000" stroke-width="2.6" />
<line x1="1621.22" y1="356.80" x2="1621.22" y2="364.80" stroke="#000" stroke-width="2.6" />
<line x1="1631.76" y1="356.80" x2="1631.76" y2="364.80" stroke="#000" stroke-width="2.6" />
<line x1="1642.30" y1="356.80" x2="1642.30" y2="370.30" stroke="#000" stroke-width="3.0" />
<line x1="1652.84" y1="356.80" x2="1652.84" y2="364.80" stroke="#000" stroke-width="2.6" />
<line x1="1663.38" y1="356.80" x2="1663.38" y2="364.80" stroke="#000" stroke-width="2.6" />
<line x1="1673.92" y1="356.80" x2="1673.92" y2="364.80" stroke="#000" stroke-width="2.6" />
<line x1="1684.46" y1="356.80" x2="1684.46" y2="364.80" stroke="#000" stroke-width="2.6" />
<text x="1589.6" y="401.5" text-anchor="middle" style="font-family:'Liberation Sans', Arial, sans-serif;font-size:22.6px;" fill="#000" >2.5</text>
<text x="1642.3" y="401.5" text-anchor="middle" style="font-family:'Liberation Sans', Arial, sans-serif;font-size:22.6px;" fill="#000" >5.0</text>
<path d="M1689.1,74.8 L1638.5,90.2 L1613.9,106.9 L1600.3,121.6 L1590.7,136.9 L1583.9,154.0 L1578.8,171.0 L1575.4,191.6 L1573.0,215.5 L1571.9,246.2 L1572.3,276.9 L1573.7,321.3 L1575.4,355.4" fill="none" stroke="#000" stroke-width="2.2" stroke-linejoin="round"/>
<text x="1582.3" y="300.8" text-anchor="middle" style="font-family:'Liberation Serif', 'DejaVu Serif', serif;font-size:25px;">(</text>
<text x="1592.2" y="300.8" text-anchor="middle" style="font-family:'Liberation Serif', 'DejaVu Serif', serif;font-size:25px;font-style:italic;">I</text>
<text x="1612.8" y="293.0" text-anchor="middle" style="font-family:'Liberation Serif', 'DejaVu Serif', serif;font-size:17.5px;" textLength="32.5" lengthAdjust="spacingAndGlyphs">(11)</text>
<text x="1634.7" y="300.8" text-anchor="middle" style="font-family:'Liberation Serif', 'DejaVu Serif', serif;font-size:25px;">/</text>
<text x="1642.3" y="300.8" text-anchor="middle" style="font-family:'Liberation Serif', 'DejaVu Serif', serif;font-size:25px;font-style:italic;">I</text>
<text x="1648.2" y="300.8" text-anchor="middle" style="font-family:'Liberation Serif', 'DejaVu Serif', serif;font-size:25px;">)</text>
<text x="1666.7" y="300.8" text-anchor="middle" style="font-family:'Liberation Serif', 'DejaVu Serif', serif;font-size:25px;">=</text>
<text x="1683.6" y="300.8" text-anchor="middle" style="font-family:'Liberation Serif', 'DejaVu Serif', serif;font-size:25px;">1</text>
<text x="1595.9" y="437.8" text-anchor="middle" style="font-family:'DejaVu Sans', sans-serif;font-size:23.3px;font-style:italic;">τ</text>
<text x="1613.2" y="443.0" text-anchor="middle" style="font-family:'DejaVu Sans', sans-serif;font-size:16.5px;font-style:italic;">op</text>
<text x="1629.4" y="437.8" text-anchor="middle" style="font-family:'DejaVu Sans', sans-serif;font-size:23.3px;">(</text>
<text x="1641.0" y="437.8" text-anchor="middle" style="font-family:'DejaVu Sans', sans-serif;font-size:23.3px;font-style:italic;">μ</text>
<text x="1654.9" y="437.8" text-anchor="middle" style="font-family:'DejaVu Sans', sans-serif;font-size:23.3px;font-style:italic;">s</text>
<text x="1666.1" y="437.8" text-anchor="middle" style="font-family:'DejaVu Sans', sans-serif;font-size:23.3px;">)</text>
<defs><linearGradient id="cbg" x1="0" y1="0" x2="0" y2="1"><stop offset="0.0000" stop-color="#fde725"/><stop offset="0.0625" stop-color="#d8e219"/><stop offset="0.1250" stop-color="#addc30"/><stop offset="0.1875" stop-color="#84d44b"/><stop offset="0.2500" stop-color="#5ec962"/><stop offset="0.3125" stop-color="#3fbc73"/><stop offset="0.3750" stop-color="#28ae80"/><stop offset="0.4375" stop-color="#1fa088"/><stop offset="0.5000" stop-color="#21918c"/><stop offset="0.5625" stop-color="#26828e"/><stop offset="0.6250" stop-color="#2c728e"/><stop offset="0.6875" stop-color="#33638d"/><stop offset="0.7500" stop-color="#3b528b"/><stop offset="0.8125" stop-color="#424086"/><stop offset="0.8750" stop-color="#472d7b"/><stop offset="0.9375" stop-color="#48186a"/><stop offset="1.0000" stop-color="#440154"/></linearGradient></defs>
<rect x="1723.50" y="60.80" width="15.10" height="297.40" fill="url(#cbg)" stroke="#000" stroke-width="3.3" />
<line x1="1738.60" y1="79.20" x2="1752.10" y2="79.20" stroke="#000" stroke-width="3.3" />
<text x="1766.5" y="87.2" text-anchor="start" style="font-family:'Liberation Sans', Arial, sans-serif;font-size:22.6px;" fill="#000" >6</text>
<line x1="1738.60" y1="128.20" x2="1752.10" y2="128.20" stroke="#000" stroke-width="3.3" />
<text x="1766.5" y="136.2" text-anchor="start" style="font-family:'Liberation Sans', Arial, sans-serif;font-size:22.6px;" fill="#000" >10</text>
<line x1="1738.60" y1="177.20" x2="1752.10" y2="177.20" stroke="#000" stroke-width="3.3" />
<text x="1766.5" y="185.2" text-anchor="start" style="font-family:'Liberation Sans', Arial, sans-serif;font-size:22.6px;" fill="#000" >14</text>
<line x1="1738.60" y1="226.20" x2="1752.10" y2="226.20" stroke="#000" stroke-width="3.3" />
<text x="1766.5" y="234.2" text-anchor="start" style="font-family:'Liberation Sans', Arial, sans-serif;font-size:22.6px;" fill="#000" >18</text>
<line x1="1738.60" y1="275.20" x2="1752.10" y2="275.20" stroke="#000" stroke-width="3.3" />
<text x="1766.5" y="283.2" text-anchor="start" style="font-family:'Liberation Sans', Arial, sans-serif;font-size:22.6px;" fill="#000" >22</text>
<line x1="1738.60" y1="324.20" x2="1752.10" y2="324.20" stroke="#000" stroke-width="3.3" />
<text x="1766.5" y="332.2" text-anchor="start" style="font-family:'Liberation Sans', Arial, sans-serif;font-size:22.6px;" fill="#000" >26</text>
<g transform="translate(1826.0,301.1) rotate(-90)"><text x="3.5" y="0.0" text-anchor="middle" style="font-family:'Liberation Sans', Arial, sans-serif;font-size:23.5px;">(</text><text x="14.9" y="0.0" text-anchor="middle" style="font-family:'Liberation Sans', Arial, sans-serif;font-size:23.5px;">1</text><text x="36.5" y="0.0" text-anchor="middle" style="font-family:'Liberation Sans', Arial, sans-serif;font-size:23.5px;">−</text><text x="59.7" y="0.0" text-anchor="middle" style="font-family:'Liberation Sans', Arial, sans-serif;font-size:23.5px;font-style:italic;">F</text><text x="79.0" y="3.5" text-anchor="middle" style="font-family:'Liberation Sans', Arial, sans-serif;font-size:16.5px;">1|2</text><text x="97.1" y="0.0" text-anchor="middle" style="font-family:'Liberation Sans', Arial, sans-serif;font-size:23.5px;">)</text><text x="114.9" y="0.0" text-anchor="middle" style="font-family:'Liberation Sans', Arial, sans-serif;font-size:23.5px;">×</text><text x="145.4" y="0.0" text-anchor="middle" style="font-family:'Liberation Sans', Arial, sans-serif;font-size:23.5px;">10</text><text x="167.2" y="-9.1" text-anchor="middle" style="font-family:'Liberation Sans', Arial, sans-serif;font-size:16.5px;">−</text><text x="179.2" y="-9.1" text-anchor="middle" style="font-family:'Liberation Sans', Arial, sans-serif;font-size:16.5px;">4</text></g>
<text x="12.2" y="37.0" text-anchor="start" style="font-family:'Liberation Sans', Arial, sans-serif;font-size:27.4px;" fill="#000" >a)</text>
<text x="35.9" y="92.9" text-anchor="start" style="font-family:'Liberation Sans', Arial, sans-serif;font-size:27px;">P</text>
<text x="54.8" y="99.0" text-anchor="start" style="font-family:'Liberation Sans', Arial, sans-serif;font-size:27px;">1/2</text>
<text x="108.2" y="74.7" text-anchor="start" style="font-family:'Liberation Sans', Arial, sans-serif;font-size:27px;">F'=1</text>
<text x="107.1" y="121.0" text-anchor="start" style="font-family:'Liberation Sans', Arial, sans-serif;font-size:27px;">F'=0</text>
<text x="106.0" y="278.1" text-anchor="start" style="font-family:'Liberation Sans', Arial, sans-serif;font-size:27px;">F=1</text>
<text x="29.5" y="319.5" text-anchor="start" style="font-family:'Liberation Sans', Arial, sans-serif;font-size:27px;">S</text>
<text x="50.7" y="324.1" text-anchor="start" style="font-family:'Liberation Sans', Arial, sans-serif;font-size:27px;">1/2</text>
<text x="107.1" y="334.9" text-anchor="start" style="font-family:'Liberation Sans', Arial, sans-serif;font-size:27px;">F=0</text>
<text x="332.5" y="305.0" text-anchor="start" style="font-family:'DejaVu Sans', sans-serif;font-size:19.6px;">12.642813 GHz</text>
<line x1="170.30" y1="81.30" x2="233.00" y2="81.30" stroke="#000" stroke-width="3.3" />
<line x1="244.70" y1="67.00" x2="307.80" y2="67.00" stroke="#000" stroke-width="3.3" />
<line x1="244.70" y1="107.50" x2="307.80" y2="107.50" stroke="#000" stroke-width="3.3" />
<line x1="321.00" y1="51.90" x2="384.00" y2="51.90" stroke="#000" stroke-width="3.3" />
<line x1="170.30" y1="283.80" x2="233.00" y2="283.80" stroke="#000" stroke-width="3.3" />
<line x1="244.70" y1="269.40" x2="307.80" y2="269.40" stroke="#000" stroke-width="3.3" />
<line x1="244.70" y1="327.50" x2="307.80" y2="327.50" stroke="#000" stroke-width="3.3" />
<line x1="321.00" y1="254.30" x2="384.00" y2="254.30" stroke="#000" stroke-width="3.3" />
<path d="M190.68,84.26 L191.91,84.61 L193.20,84.95 L194.52,85.28 L195.82,85.61 L197.07,85.96 L198.25,86.33 L199.31,86.74 L200.23,87.19 L200.98,87.69 L201.56,88.24 L201.94,88.86 L202.13,89.53 L202.11,90.27 L201.91,91.06 L201.53,91.90 L200.99,92.80 L200.31,93.73 L199.53,94.70 L198.67,95.69 L197.77,96.70 L196.86,97.71 L195.98,98.70 L195.17,99.68 L194.45,100.63 L193.86,101.54 L193.42,102.40 L193.15,103.22 L193.07,103.97 L193.19,104.67 L193.50,105.30 L194.01,105.87 L194.70,106.39 L195.57,106.86 L196.58,107.28 L197.71,107.67 L198.94,108.02 L200.23,108.36 L201.55,108.69 L202.85,109.02 L204.11,109.37 L205.29,109.74 L206.36,110.14 L207.29,110.59 L208.07,111.08 L208.66,111.63 L209.06,112.24 L209.26,112.91 L209.26,113.64 L209.07,114.42 L208.71,115.26 L208.18,116.16 L207.51,117.09 L206.74,118.05 L205.89,119.04 L204.99,120.05 L204.08,121.05 L203.20,122.05 L202.38,123.03 L201.65,123.98 L201.05,124.90 L200.59,125.77 L200.31,126.58 L200.21,127.34 L200.31,128.04 L200.61,128.68 L201.10,129.26 L201.78,129.79 L202.63,130.26 L203.63,130.68 L204.75,131.07 L205.98,131.43 L207.26,131.77 L208.57,132.09 L209.88,132.43 L211.15,132.77 L212.33,133.14 L213.42,133.54 L214.36,133.98 L215.15,134.47 L215.75,135.02 L216.17,135.62 L216.39,136.28 L216.41,137.01 L216.24,137.79 L215.89,138.63 L215.37,139.51 L214.72,140.44 L213.95,141.41 L213.10,142.39 L212.21,143.40 L211.30,144.40 L210.42,145.40 L209.59,146.39 L208.85,147.34 L208.24,148.26 L207.77,149.13 L207.47,149.95 L207.35,150.72 L207.43,151.42 L207.71,152.07 L208.19,152.65 L208.85,153.18 L209.69,153.65 L210.68,154.08 L211.79,154.47 L213.01,154.83 L214.29,155.17 L215.60,155.50 L216.91,155.83 L218.18,156.18 L219.38,156.54 L220.47,156.94 L221.43,157.38 L222.23,157.86 L222.85,158.40 L223.29,159.00 L223.52,159.66 L223.56,160.38 L223.40,161.15 L223.07,161.99 L222.57,162.87 L221.92,163.80 L221.16,164.76 L220.32,165.74 L219.43,166.75 L218.52,167.75 L217.63,168.75 L216.80,169.74 L216.05,170.69 L215.43,171.62 L214.94,172.49 L214.63,173.32 L214.50,174.09 L214.56,174.80 L214.82,175.45 L215.28,176.04 L215.93,176.57 L216.75,177.05 L217.73,177.48 L218.83,177.88 L220.04,178.24 L221.32,178.58 L222.63,178.91 L223.94,179.24 L225.22,179.58 L226.42,179.95 L227.52,180.34 L228.49,180.77 L229.31,181.26 L229.95,181.79 L230.40,182.38 L230.65,183.04 L230.71,183.75 L230.57,184.52 L230.24,185.35 L229.76,186.23 L229.12,187.15 L228.37,188.11 L227.54,189.09 L226.65,190.10 L225.74,191.10 L224.85,192.10 L224.01,193.09 L223.26,194.05 L222.62,194.97 L222.12,195.85 L221.79,196.68 L221.64,197.46 L221.69,198.18 L221.93,198.83 L222.38,199.43 L223.01,199.96 L223.82,200.45 L224.78,200.88 L225.88,201.28 L227.08,201.64 L228.35,201.99 L229.66,202.32 L230.97,202.65 L232.25,202.99 L233.46,203.35 L234.57,203.74 L235.56,204.17 L236.38,204.65 L237.04,205.18 L237.51,205.77 L237.78,206.41 L237.85,207.12 L237.73,207.89 L237.42,208.71 L236.95,209.59 L236.33,210.51 L235.58,211.46 L234.75,212.44 L233.87,213.44 L232.96,214.45 L232.07,215.45 L231.22,216.44 L230.46,217.40 L229.81,218.33 L229.30,219.22 L228.96,220.05 L228.79,220.83 L228.82,221.55 L229.05,222.21 L229.47,222.81 L230.09,223.36 L230.88,223.84 L231.83,224.28 L232.92,224.68 L234.11,225.05 L235.38,225.39 L236.69,225.73 L238.00,226.05 L239.28,226.39 L240.50,226.75 L241.62,227.14 L242.62,227.57 L243.46,228.04 L244.13,228.57 L244.62,229.15 L244.90,229.79 L244.99,230.49 L244.89,231.26 L244.60,232.07 L244.13,232.94 L243.53,233.86 L242.79,234.81 L241.97,235.79 L241.09,236.79 L240.18,237.80 L239.28,238.80 L238.43,239.79 L237.66,240.76 L237.00,241.69 L236.48,242.58 L236.12,243.42 L235.94,244.20 L235.95,244.93 L236.16,245.59 L236.57,246.20 L237.17,246.75 L237.95,247.24 L238.89,247.68 L239.96,248.09 L241.15,248.46 L242.41,248.80 L243.71,249.13 L245.03,249.46 L246.32,249.80 L247.54,250.16 L248.67,250.54 L249.68,250.96 L250.54,251.43 L251.22,251.95 L251.72,252.53 L252.03,253.17 L252.14,253.87 L252.05,254.62 L251.77,255.44 L251.32,256.30 L250.73,257.22 L250.00,258.17 L249.19,259.14 L248.31,260.14 L247.40,261.15 L246.50,262.15 L245.64,263.14 L244.87,264.11 L244.19,265.05 L243.66,265.94 L243.29,266.78 L243.09,267.57 L243.08,268.30 L243.28,268.98 L243.67,269.59 L244.25,270.14 L245.02,270.64 L245.94,271.08 L247.01,271.49 L248.18,271.86 L249.44,272.21 L250.74,272.54 L252.06,272.87 L253.35,273.21 L254.58,273.56 L255.72,273.94 L256.74,274.36 L257.61,274.83 L258.31,275.34 L258.83,275.92 L259.15,276.55 L259.28,277.24 L259.20,277.99 L258.94,278.80 L258.51,279.66 L257.92,280.57 L257.21,281.52 L256.40,282.50 L255.53,283.49 L254.62,284.50 L253.72,285.50 L252.86,286.49 L252.07,287.46 L251.39,288.40 L250.84,289.30 L250.45,290.15 L250.24,290.94 L250.22,291.68 L250.39,292.36 L250.77,292.97 L251.34,293.53 L252.08,294.03 L253.00,294.48 L254.05,294.89 L255.22,295.27 L256.47,295.61 L257.77,295.95 L259.09,296.28 L260.38,296.61 L261.62,296.96 L262.77,297.34 L263.80,297.76 L264.68,298.22 L265.40,298.73 L265.94,299.30 L266.27,299.93 L266.41,300.61 L266.36,301.36 L266.11,302.16 L265.69,303.02 L265.12,303.93 L264.42,304.87 L263.62,305.85 L262.75,306.84 L261.84,307.85 L260.94,308.85 L260.07,309.85 L259.28,310.82 L258.59,311.76 L258.03,312.66 L257.62,313.51 L257.39,314.31 L257.35,315.05 L257.51,315.74 L257.87,316.36 L258.42,316.92 L259.16,317.43 L264.00,321.30" fill="none" stroke="#8a8a8a" stroke-width="2.8" stroke-linejoin="round"/><polygon points="264.50,325.80 259.53,321.82 268.48,320.83" fill="#000"/>
<path d="M275.70,68.80 L274.41,69.50 L273.16,70.20 L271.99,70.89 L270.94,71.59 L270.05,72.29 L269.34,72.99 L268.83,73.69 L268.55,74.39 L268.50,75.09 L268.68,75.79 L269.09,76.49 L269.71,77.19 L270.52,77.89 L271.51,78.59 L272.62,79.29 L273.84,79.99 L275.12,80.69 L276.41,81.40 L277.68,82.10 L278.89,82.80 L279.99,83.50 L280.95,84.20 L281.74,84.90 L282.34,85.60 L282.72,86.30 L282.87,87.00 L282.79,87.70 L282.47,88.40 L281.94,89.10 L281.21,89.80 L280.29,90.50 L279.23,91.20 L278.05,91.89 L276.79,92.59 L275.49,93.29 L274.21,93.99 L272.96,94.69 L271.81,95.38 L270.78,96.08 L269.91,96.78 L269.22,97.48 L268.75,98.18 L268.49,98.88 L268.47,99.58 L268.68,100.28 L269.12,100.98 L269.77,101.68 L270.60,102.38 L271.60,103.08 L272.74,103.78 L273.96,104.48 L275.24,105.18 L276.54,105.89 L277.80,106.59 L279.00,107.29 L280.08,107.99 L281.02,108.69 L281.79,109.39 L282.36,110.09 L282.71,110.79 L282.83,111.49 L282.72,112.19 L282.38,112.89 L281.82,113.59 L281.06,114.29 L280.12,114.99 L279.04,115.69 L277.85,116.38 L276.58,117.08 L275.29,117.78 L274.00,118.48 L272.77,119.18 L271.63,119.87 L270.62,120.57 L269.77,121.27 L269.11,121.97 L268.66,122.67 L268.44,123.37 L268.45,124.07 L268.69,124.77 L269.15,125.47 L269.82,126.17 L270.68,126.87 L271.71,127.57 L272.85,128.27 L274.09,128.97 L275.37,129.67 L276.66,130.38 L277.92,131.08 L279.10,131.78 L280.17,132.48 L281.10,133.18 L281.84,133.88 L282.38,134.58 L282.70,135.28 L282.79,135.98 L282.65,136.68 L282.28,137.38 L281.69,138.08 L280.91,138.78 L279.95,139.48 L278.85,140.18 L277.65,140.87 L276.38,141.57 L275.08,142.27 L273.80,142.97 L272.58,143.66 L271.45,144.36 L270.46,145.06 L269.64,145.76 L269.00,146.46 L268.58,147.16 L268.39,147.86 L268.43,148.56 L268.69,149.26 L269.19,149.96 L269.89,150.66 L270.77,151.36 L271.81,152.06 L272.97,152.76 L274.21,153.46 L275.50,154.17 L276.79,154.87 L278.04,155.57 L279.21,156.27 L280.26,156.97 L281.16,157.67 L281.88,158.37 L282.39,159.07 L282.69,159.77 L282.75,160.47 L282.58,161.17 L282.18,161.87 L281.56,162.57 L280.76,163.27 L279.78,163.97 L278.66,164.67 L277.45,165.36 L276.17,166.06 L274.88,166.76 L273.60,167.46 L272.39,168.15 L271.28,168.85 L270.31,169.55 L269.50,170.25 L268.90,170.95 L268.50,171.65 L268.34,172.35 L268.41,173.05 L268.71,173.75 L269.23,174.45 L269.95,175.15 L270.86,175.85 L271.91,176.55 L273.09,177.25 L274.34,177.95 L275.63,178.66 L276.92,179.36 L278.16,180.06 L279.31,180.76 L280.35,181.46 L281.23,182.16 L281.92,182.86 L282.41,183.56 L282.67,184.26 L282.70,184.96 L282.50,185.66 L282.07,186.36 L281.43,187.06 L280.60,187.76 L279.60,188.46 L278.47,189.16 L277.25,189.85 L275.97,190.55 L274.67,191.25 L273.40,191.95 L272.20,192.64 L271.11,193.34 L270.15,194.04 L269.38,194.74 L268.80,195.44 L268.43,196.14 L268.30,196.84 L268.39,197.54 L268.72,198.24 L269.27,198.94 L270.02,199.64 L270.95,200.34 L272.02,201.04 L273.20,201.74 L274.46,202.44 L275.76,203.15 L277.04,203.85 L278.27,204.55 L279.42,205.25 L280.43,205.95 L281.29,206.65 L281.96,207.35 L282.41,208.05 L282.65,208.75 L282.65,209.45 L282.42,210.15 L281.96,210.85 L281.30,211.55 L280.44,212.25 L279.43,212.95 L278.28,213.65 L277.05,214.34 L275.76,215.04 L274.47,215.74 L273.20,216.44 L272.01,217.13 L270.94,217.83 L270.01,218.53 L269.25,219.23 L268.70,219.93 L268.36,220.63 L268.26,221.33 L268.39,222.03 L268.74,222.73 L269.32,223.43 L270.09,224.13 L271.04,224.83 L272.13,225.53 L273.32,226.23 L274.59,226.93 L275.88,227.64 L277.16,228.34 L278.39,229.04 L279.52,229.74 L280.51,230.44 L281.35,231.14 L281.99,231.84 L282.42,232.54 L282.62,233.24 L282.59,233.94 L282.33,234.64 L281.85,235.34 L281.16,236.04 L280.28,236.74 L279.25,237.44 L278.09,238.14 L276.85,238.83 L275.56,239.53 L274.26,240.23 L273.01,240.93 L271.83,241.62 L270.77,242.32 L269.86,243.02 L269.13,243.72 L268.60,244.42 L268.30,245.12 L268.22,245.82 L268.38,246.52 L268.77,247.22 L269.37,247.92 L270.16,248.62 L271.13,249.32 L272.24,250.02 L273.44,250.72 L274.72,251.42 L276.01,252.13 L277.29,252.83 L278.50,253.53 L279.61,254.23 L280.59,254.93 L281.40,255.63 L282.02,256.33 L282.42,257.03 L282.59,257.73 L282.53,258.43 L282.24,259.13 L281.73,259.83 L281.01,260.53 L280.12,261.23 L279.06,261.93 L277.89,262.63 L276.64,263.32 L275.35,264.02 L274.06,264.72 L272.81,265.42 L271.65,266.11 L270.60,266.81 L269.72,267.51 L269.01,268.21 L268.51,268.91 L268.24,269.61 L268.19,270.31 L268.38,271.01 L268.79,271.71 L269.42,272.41 L270.24,273.11 L271.23,273.81 L272.35,274.51 L273.57,275.21 L274.84,275.92 L276.14,276.62 L277.41,277.32 L278.61,278.02 L279.71,278.72 L280.67,279.42 L281.45,280.12 L282.04,280.82 L282.41,281.52 L282.56,282.22 L282.47,282.92 L282.15,283.62 L281.61,284.32 L280.87,285.02 L279.95,285.72 L278.88,286.42 L277.70,287.12 L276.44,287.81 L275.14,288.51 L273.86,289.21 L272.62,289.91 L271.47,290.60 L270.44,291.30 L269.58,292.00 L268.90,292.70 L268.42,293.40 L268.18,294.10 L268.16,294.80 L268.38,295.50 L268.82,296.20 L269.48,296.90 L270.32,297.60 L271.33,298.30 L272.46,299.00 L273.69,299.70 L274.97,300.41 L276.27,301.11 L277.53,301.81 L278.72,302.51 L279.80,303.21 L280.74,303.91 L281.50,304.61 L282.06,305.31 L282.41,306.01 L282.52,306.71 L282.40,307.41 L282.05,308.11 L281.49,308.81 L280.72,309.51 L279.78,310.21 L278.70,310.91 L277.50,311.60 L276.23,312.30 L274.94,313.00 L273.65,313.70 L272.42,314.40 L271.29,315.09 L270.28,315.79 L275.10,320.30" fill="none" stroke="#8a8a8a" stroke-width="4.3" stroke-linejoin="round"/><polygon points="274.90,326.30 268.30,320.08 281.90,320.53" fill="#000"/>
<path d="M350.96,52.39 L351.73,53.30 L352.60,54.23 L353.55,55.19 L354.55,56.15 L355.55,57.11 L356.53,58.07 L357.45,59.02 L358.27,59.94 L358.98,60.83 L359.54,61.68 L359.92,62.50 L360.13,63.27 L360.13,63.99 L359.94,64.66 L359.54,65.29 L358.96,65.86 L358.19,66.40 L357.25,66.89 L356.18,67.35 L355.00,67.78 L353.73,68.19 L352.41,68.59 L351.07,68.98 L349.75,69.38 L348.49,69.79 L347.31,70.22 L346.24,70.68 L345.32,71.18 L344.56,71.71 L343.98,72.29 L343.60,72.92 L343.41,73.59 L343.43,74.32 L343.64,75.09 L344.04,75.90 L344.61,76.76 L345.32,77.66 L346.15,78.58 L347.07,79.52 L348.05,80.48 L349.06,81.45 L350.05,82.41 L351.00,83.36 L351.87,84.29 L352.63,85.20 L353.26,86.07 L353.73,86.91 L354.02,87.70 L354.11,88.44 L354.01,89.14 L353.71,89.78 L353.20,90.38 L352.52,90.93 L351.66,91.44 L350.64,91.91 L349.51,92.36 L348.27,92.78 L346.97,93.18 L345.64,93.57 L344.31,93.97 L343.01,94.37 L341.79,94.80 L340.67,95.24 L339.68,95.72 L338.84,96.24 L338.18,96.79 L337.70,97.40 L337.43,98.05 L337.36,98.75 L337.48,99.50 L337.80,100.30 L338.29,101.14 L338.94,102.02 L339.72,102.93 L340.60,103.86 L341.56,104.82 L342.55,105.78 L343.56,106.75 L344.53,107.70 L345.44,108.65 L346.26,109.56 L346.95,110.45 L347.49,111.31 L347.86,112.12 L348.05,112.88 L348.04,113.60 L347.83,114.27 L347.41,114.89 L346.81,115.46 L346.03,115.99 L345.08,116.48 L344.00,116.93 L342.80,117.36 L341.53,117.77 L340.20,118.17 L338.87,118.56 L337.55,118.96 L336.29,119.37 L335.12,119.81 L334.07,120.27 L333.16,120.77 L332.41,121.31 L331.85,121.89 L331.49,122.52 L331.32,123.20 L331.36,123.93 L331.59,124.71 L332.00,125.53 L332.58,126.39 L333.30,127.28 L334.14,128.21 L335.07,129.16 L336.06,130.12 L337.06,131.08 L338.05,132.04 L338.99,132.99 L339.86,133.92 L340.61,134.83 L341.22,135.70 L341.67,136.53 L341.95,137.31 L342.03,138.05 L341.91,138.74 L341.58,139.38 L341.07,139.98 L340.36,140.53 L339.49,141.03 L338.46,141.50 L337.32,141.94 L336.07,142.36 L334.77,142.76 L333.43,143.16 L332.10,143.55 L330.82,143.96 L329.60,144.38 L328.49,144.83 L327.51,145.31 L326.69,145.83 L326.04,146.39 L325.59,147.00 L325.33,147.66 L325.27,148.37 L325.42,149.12 L325.75,149.92 L326.25,150.77 L326.91,151.65 L327.71,152.56 L328.60,153.50 L329.56,154.45 L330.56,155.41 L331.56,156.38 L332.53,157.34 L333.43,158.28 L334.24,159.19 L334.92,160.08 L335.45,160.93 L335.80,161.73 L335.97,162.50 L335.94,163.21 L335.71,163.87 L335.28,164.49 L334.66,165.06 L333.86,165.58 L332.90,166.07 L331.81,166.52 L330.61,166.95 L329.33,167.35 L328.00,167.75 L326.66,168.14 L325.35,168.54 L324.10,168.96 L322.94,169.40 L321.90,169.86 L321.00,170.36 L320.27,170.91 L319.73,171.49 L319.38,172.13 L319.23,172.81 L319.28,173.54 L319.53,174.32 L319.96,175.15 L320.55,176.01 L321.29,176.91 L322.14,177.84 L323.07,178.79 L324.06,179.75 L325.06,180.71 L326.05,181.68 L326.99,182.62 L327.84,183.55 L328.58,184.45 L329.18,185.32 L329.62,186.15 L329.88,186.93 L329.94,187.66 L329.80,188.35 L329.46,188.99 L328.93,189.58 L328.21,190.12 L327.32,190.62 L326.28,191.09 L325.12,191.53 L323.87,191.94 L322.56,192.34 L321.23,192.74 L319.90,193.14 L318.62,193.54 L317.41,193.97 L316.31,194.42 L315.35,194.90 L314.54,195.43 L313.91,195.99 L313.47,196.61 L313.23,197.27 L313.19,197.98 L313.35,198.74 L313.70,199.54 L314.22,200.39 L314.90,201.27 L315.70,202.19 L316.60,203.13 L317.56,204.08 L318.56,205.05 L319.56,206.01 L320.53,206.97 L321.43,207.91 L322.22,208.82 L322.89,209.70 L323.40,210.55 L323.74,211.35 L323.89,212.11 L323.85,212.82 L323.60,213.48 L323.15,214.09 L322.51,214.65 L321.70,215.17 L320.73,215.66 L319.62,216.11 L318.41,216.53 L317.12,216.94 L315.80,217.33 L314.46,217.73 L313.15,218.13 L311.91,218.54 L310.76,218.98 L309.73,219.45 L308.84,219.96 L308.13,220.50 L307.60,221.09 L307.27,221.73 L307.14,222.42 L307.21,223.16 L307.48,223.94 L307.92,224.77 L308.53,225.64 L309.28,226.54 L310.13,227.47 L311.07,228.42 L312.06,229.38 L313.07,230.35 L314.05,231.31 L314.99,232.25 L315.83,233.18 L316.56,234.08 L317.15,234.94 L317.57,235.76 L317.81,236.54 L317.85,237.27 L317.69,237.96 L317.34,238.59 L316.78,239.17 L316.05,239.71 L315.15,240.21 L314.10,240.68 L312.93,241.11 L311.67,241.53 L310.36,241.93 L309.03,242.32 L307.70,242.72 L306.42,243.13 L305.22,243.55 L304.14,244.01 L303.18,244.50 L302.39,245.02 L301.78,245.59 L301.36,246.21 L301.14,246.88 L301.12,247.59 L301.29,248.35 L301.66,249.16 L302.19,250.01 L302.88,250.90 L303.69,251.82 L304.60,252.76 L305.57,253.72 L306.57,254.68 L307.57,255.65 L308.53,256.60 L309.42,257.54 L310.20,258.45 L310.86,259.33 L311.35,260.17 L311.68,260.97 L311.81,261.72 L311.75,262.42 L311.48,263.08 L311.02,263.69 L310.36,264.25 L309.53,264.76 L308.55,265.24 L307.43,265.69 L306.21,266.11 L304.92,266.52 L303.59,266.92 L302.26,267.31 L300.96,267.71 L299.72,268.13 L298.57,268.57 L297.56,269.04 L296.69,269.55 L295.99,270.10 L295.48,270.70 L295.17,271.34 L295.06,272.03 L295.15,272.78 L295.43,273.56 L295.89,274.40 L296.51,275.27 L297.26,276.17 L298.13,277.10 L299.08,278.05 L300.07,279.02 L301.07,279.98 L302.05,280.94 L302.98,281.89 L303.82,282.81 L304.53,283.70 L305.11,284.56 L305.51,285.38 L305.73,286.16 L305.76,286.88 L305.59,287.56 L305.21,288.19 L304.64,288.77 L303.89,289.31 L302.97,289.80 L301.91,290.27 L300.74,290.70 L299.48,291.11 L298.16,291.51 L296.82,291.90 L295.50,292.30 L294.23,292.71 L293.04,293.14 L291.96,293.60 L291.02,294.09 L290.24,294.62 L289.65,295.19 L289.24,295.82 L289.04,296.49 L289.04,297.21 L289.23,297.97 L289.61,298.79 L290.16,299.64 L290.86,300.53 L291.68,301.45 L292.59,302.39 L293.57,303.35 L294.57,304.32 L295.57,305.28 L296.52,306.23 L297.41,307.17 L298.18,308.07 L298.82,308.95 L299.31,309.79 L299.61,310.58 L299.73,311.33 L299.65,312.03 L299.36,312.68 L298.88,313.29 L298.21,313.84 L297.37,314.36 L296.37,314.83 L295.24,315.28 L294.02,315.70 L292.72,316.10 L289.90,320.80" fill="none" stroke="#8a8a8a" stroke-width="2.8" stroke-linejoin="round"/><polygon points="289.40,325.30 285.42,320.33 294.37,321.32" fill="#000"/>
<line x1="184.50" y1="96.90" x2="184.50" y2="266.80" stroke="#000" stroke-width="7" /><polygon points="184.50,280.00 174.80,263.50 194.20,263.50" fill="#000"/><polygon points="184.50,83.70 194.20,100.20 174.80,100.20" fill="#000"/>
<line x1="369.33" y1="68.40" x2="368.47" y2="238.60" stroke="#000" stroke-width="7" /><polygon points="368.40,251.80 358.78,235.25 378.18,235.35" fill="#000"/><polygon points="369.40,55.20 379.02,71.75 359.62,71.65" fill="#000"/>
<line x1="215.46" y1="95.27" x2="258.64" y2="258.03" stroke="#000" stroke-width="3.0" /><polygon points="261.20,267.70 251.42,257.36 264.57,253.87" fill="#000"/><polygon points="212.90,85.60 222.68,95.94 209.53,99.43" fill="#000"/>
<line x1="257.30" y1="79.46" x2="205.60" y2="271.34" stroke="#000" stroke-width="3.0" /><polygon points="203.00,281.00 199.69,267.16 212.82,270.70" fill="#000"/><polygon points="259.90,69.80 263.21,83.64 250.08,80.10" fill="#000"/>
<line x1="292.21" y1="80.57" x2="347.29" y2="243.03" stroke="#000" stroke-width="3.0" /><polygon points="350.50,252.50 340.05,242.85 352.93,238.48" fill="#000"/><polygon points="289.00,71.10 299.45,80.75 286.57,85.12" fill="#000"/>
<line x1="336.96" y1="62.92" x2="290.04" y2="257.98" stroke="#000" stroke-width="3.0" /><polygon points="287.70,267.70 284.01,253.96 297.23,257.14" fill="#000"/><polygon points="339.30,53.20 342.99,66.94 329.77,63.76" fill="#000"/>
<circle cx="276.7" cy="268.8" r="6" fill="#0b0b26"/>
<text x="193.4" y="373.5" text-anchor="middle" style="font-family:'Liberation Serif', 'DejaVu Serif', serif;font-size:27.5px;font-style:italic;" textLength="21" lengthAdjust="spacingAndGlyphs">D</text>
<text x="208.8" y="380.1" text-anchor="middle" style="font-family:'Liberation Serif', 'DejaVu Serif', serif;font-size:19px;">1</text>
<text x="222.2" y="360.0" text-anchor="middle" style="font-family:'Liberation Serif', 'DejaVu Serif', serif;font-size:19px;" textLength="34" lengthAdjust="spacingAndGlyphs">(11)</text>
<text x="310.6" y="373.5" text-anchor="middle" style="font-family:'Liberation Serif', 'DejaVu Serif', serif;font-size:27.5px;" textLength="120" lengthAdjust="spacingAndGlyphs">transitions</text>
<text x="228.9" y="408.5" text-anchor="middle" style="font-family:'Liberation Serif', 'DejaVu Serif', serif;font-size:27.5px;" textLength="58" lengthAdjust="spacingAndGlyphs">(F=1</text>
<text x="271.0" y="408.5" text-anchor="middle" style="font-family:'DejaVu Sans', sans-serif;font-size:27.5px;" textLength="23.5" lengthAdjust="spacingAndGlyphs">→</text>
<text x="316.9" y="408.5" text-anchor="middle" style="font-family:'Liberation Serif', 'DejaVu Serif', serif;font-size:27.5px;" textLength="65.5" lengthAdjust="spacingAndGlyphs">F’=1)</text>
<text x="482.3" y="83.8" text-anchor="middle" style="font-family:'Liberation Serif', 'DejaVu Serif', serif;font-size:25px;" textLength="37.6" lengthAdjust="spacingAndGlyphs">171</text>
<text x="526.5" y="96.0" text-anchor="middle" style="font-family:'Liberation Serif', 'DejaVu Serif', serif;font-size:35px;" textLength="45" lengthAdjust="spacingAndGlyphs">Yb</text>
<text x="559.7" y="80.5" text-anchor="middle" style="font-family:'Liberation Serif', 'DejaVu Serif', serif;font-size:25px;" textLength="19" lengthAdjust="spacingAndGlyphs">+</text>
<rect x="460.10" y="161.30" width="143.70" height="84.40" fill="#e0e0e0" stroke="none" stroke-width="0" />
<line x1="482.60" y1="185.60" x2="509.70" y2="185.60" stroke="#000" stroke-width="6.6" /><polygon points="523.70,185.60 506.20,195.10 506.20,176.10" fill="#000"/><polygon points="468.60,185.60 486.10,176.10 486.10,195.10" fill="#000"/>
<line x1="485.84" y1="225.60" x2="507.46" y2="225.60" stroke="#000" stroke-width="3" /><polygon points="518.10,225.60 504.80,232.10 504.80,219.10" fill="#000"/><polygon points="475.20,225.60 488.50,219.10 488.50,232.10" fill="#000"/>
<text x="548.6" y="194.0" text-anchor="middle" style="font-family:'Liberation Serif', 'DejaVu Serif', serif;font-size:27px;font-style:italic;" textLength="21" lengthAdjust="spacingAndGlyphs">π</text>
<text x="546.7" y="234.0" text-anchor="middle" style="font-family:'Liberation Serif', 'DejaVu Serif', serif;font-size:27px;font-style:italic;" textLength="15.5" lengthAdjust="spacingAndGlyphs">σ</text>
<text x="577.5" y="224.5" text-anchor="middle" style="font-family:'DejaVu Sans', sans-serif;font-size:19px;" textLength="43" lengthAdjust="spacingAndGlyphs">+/−</text>
<text x="639.8" y="93.8" text-anchor="start" style="font-family:'Liberation Sans', Arial, sans-serif;font-size:27px;">P</text>
<text x="658.0" y="100.0" text-anchor="start" style="font-family:'Liberation Sans', Arial, sans-serif;font-size:27px;">1/2</text>
<text x="711.2" y="76.0" text-anchor="start" style="font-family:'Liberation Sans', Arial, sans-serif;font-size:27px;">F'=1</text>
<text x="711.2" y="122.2" text-anchor="start" style="font-family:'Liberation Sans', Arial, sans-serif;font-size:27px;">F'=0</text>
<text x="709.6" y="278.4" text-anchor="start" style="font-family:'Liberation Sans', Arial, sans-serif;font-size:27px;">F=1</text>
<text x="633.1" y="319.7" text-anchor="start" style="font-family:'Liberation Sans', Arial, sans-serif;font-size:27px;">S</text>
<text x="654.0" y="325.0" text-anchor="start" style="font-family:'Liberation Sans', Arial, sans-serif;font-size:27px;">1/2</text>
<text x="710.9" y="335.6" text-anchor="start" style="font-family:'Liberation Sans', Arial, sans-serif;font-size:27px;">F=0</text>
<line x1="773.80" y1="70.50" x2="837.90" y2="70.50" stroke="#000" stroke-width="3.3" />
<line x1="849.80" y1="55.60" x2="914.10" y2="55.60" stroke="#000" stroke-width="3.3" />
<line x1="927.60" y1="40.30" x2="991.70" y2="40.30" stroke="#000" stroke-width="3.3" />
<line x1="849.80" y1="96.80" x2="914.10" y2="96.80" stroke="#000" stroke-width="3.3" />
<line x1="774.00" y1="276.80" x2="837.80" y2="276.80" stroke="#000" stroke-width="3.3" />
<line x1="849.70" y1="262.30" x2="913.70" y2="262.30" stroke="#000" stroke-width="3.3" />
<line x1="927.50" y1="247.20" x2="991.80" y2="247.20" stroke="#000" stroke-width="3.3" />
<line x1="849.70" y1="321.30" x2="913.70" y2="321.30" stroke="#000" stroke-width="3.3" />
<path d="M844.15,99.59 L844.74,100.52 L845.43,101.50 L846.21,102.50 L847.03,103.52 L847.86,104.54 L848.67,105.55 L849.42,106.54 L850.09,107.51 L850.64,108.43 L851.05,109.31 L851.30,110.13 L851.37,110.89 L851.25,111.59 L850.94,112.22 L850.44,112.79 L849.77,113.29 L848.93,113.74 L847.94,114.15 L846.84,114.51 L845.64,114.84 L844.39,115.15 L843.11,115.45 L841.83,115.75 L840.60,116.07 L839.45,116.42 L838.39,116.80 L837.48,117.22 L836.71,117.70 L836.12,118.23 L835.71,118.83 L835.49,119.49 L835.46,120.22 L835.62,121.01 L835.94,121.86 L836.42,122.76 L837.03,123.70 L837.74,124.68 L838.53,125.69 L839.35,126.70 L840.18,127.72 L840.99,128.73 L841.73,129.72 L842.38,130.68 L842.90,131.60 L843.28,132.46 L843.50,133.28 L843.53,134.02 L843.38,134.71 L843.04,135.33 L842.51,135.89 L841.80,136.38 L840.93,136.83 L839.93,137.22 L838.80,137.58 L837.60,137.90 L836.33,138.21 L835.05,138.51 L833.78,138.82 L832.56,139.14 L831.42,139.49 L830.39,139.88 L829.50,140.31 L828.77,140.80 L828.21,141.34 L827.83,141.95 L827.65,142.63 L827.65,143.37 L827.84,144.17 L828.19,145.02 L828.70,145.93 L829.33,146.88 L830.05,147.87 L830.85,148.88 L831.68,149.89 L832.51,150.91 L833.30,151.92 L834.03,152.90 L834.66,153.86 L835.16,154.76 L835.51,155.62 L835.69,156.42 L835.70,157.16 L835.51,157.83 L835.13,158.44 L834.57,158.99 L833.83,159.47 L832.94,159.91 L831.91,160.29 L830.77,160.64 L829.55,160.96 L828.28,161.27 L827.00,161.57 L825.73,161.88 L824.53,162.20 L823.40,162.56 L822.40,162.96 L821.53,163.40 L820.83,163.90 L820.30,164.45 L819.96,165.07 L819.81,165.76 L819.85,166.51 L820.07,167.32 L820.45,168.19 L820.98,169.11 L821.63,170.06 L822.37,171.05 L823.17,172.06 L824.00,173.08 L824.83,174.10 L825.61,175.11 L826.32,176.08 L826.93,177.03 L827.41,177.93 L827.73,178.77 L827.88,179.56 L827.85,180.29 L827.63,180.95 L827.22,181.55 L826.63,182.08 L825.86,182.56 L824.94,182.98 L823.89,183.36 L822.73,183.71 L821.50,184.03 L820.22,184.33 L818.94,184.63 L817.69,184.94 L816.49,185.27 L815.39,185.63 L814.41,186.04 L813.57,186.49 L812.90,187.00 L812.40,187.57 L812.09,188.20 L811.98,188.90 L812.05,189.66 L812.30,190.48 L812.71,191.36 L813.26,192.28 L813.93,193.25 L814.68,194.24 L815.50,195.25 L816.33,196.27 L817.15,197.29 L817.92,198.29 L818.62,199.26 L819.20,200.20 L819.65,201.09 L819.95,201.93 L820.07,202.70 L820.00,203.42 L819.75,204.07 L819.30,204.66 L818.68,205.18 L817.88,205.65 L816.93,206.06 L815.86,206.43 L814.69,206.77 L813.44,207.09 L812.17,207.39 L810.89,207.69 L809.64,208.00 L808.46,208.34 L807.38,208.71 L806.42,209.12 L805.61,209.58 L804.97,210.10 L804.51,210.68 L804.23,211.33 L804.15,212.03 L804.26,212.81 L804.54,213.64 L804.97,214.53 L805.55,215.46 L806.23,216.43 L807.00,217.43 L807.82,218.44 L808.65,219.46 L809.47,220.48 L810.23,221.47 L810.91,222.44 L811.47,223.37 L811.89,224.25 L812.16,225.08 L812.24,225.84 L812.15,226.55 L811.86,227.19 L811.38,227.76 L810.72,228.27 L809.89,228.73 L808.92,229.14 L807.83,229.50 L806.64,229.84 L805.39,230.15 L804.11,230.45 L802.84,230.75 L801.60,231.07 L800.43,231.41 L799.37,231.79 L798.44,232.20 L797.66,232.68 L797.05,233.21 L796.62,233.80 L796.38,234.45 L796.33,235.17 L796.47,235.96 L796.78,236.80 L797.24,237.70 L797.84,238.64 L798.54,239.61 L799.32,240.61 L800.15,241.63 L800.98,242.65 L801.78,243.66 L802.53,244.65 L803.19,245.62 L803.73,246.54 L804.13,247.41 L804.36,248.23 L804.42,248.98 L804.28,249.67 L803.96,250.30 L803.45,250.86 L802.76,251.37 L801.91,251.81 L800.91,252.21 L799.80,252.57 L798.60,252.90 L797.34,253.21 L796.06,253.51 L794.79,253.81 L793.56,254.13 L792.41,254.48 L791.37,254.86 L789.00,269.50" fill="none" stroke="#8a8a8a" stroke-width="2.8" stroke-linejoin="round"/><polygon points="789.50,274.50 784.52,269.97 793.48,269.08" fill="#000"/>
<path d="M885.00,100.01 L885.10,100.71 L885.38,101.41 L885.85,102.10 L886.48,102.80 L887.25,103.49 L888.14,104.19 L889.13,104.88 L890.17,105.58 L891.24,106.27 L892.31,106.97 L893.33,107.67 L894.28,108.36 L895.12,109.06 L895.84,109.75 L896.40,110.45 L896.79,111.15 L896.99,111.84 L897.01,112.54 L896.83,113.24 L896.47,113.93 L895.93,114.63 L895.24,115.33 L894.42,116.03 L893.48,116.73 L892.47,117.43 L891.41,118.13 L890.34,118.83 L889.30,119.53 L888.30,120.23 L887.40,120.92 L886.61,121.62 L885.96,122.32 L885.48,123.02 L885.17,123.72 L885.05,124.41 L885.12,125.11 L885.38,125.81 L885.82,126.51 L886.43,127.20 L887.18,127.90 L888.06,128.59 L889.03,129.29 L890.07,129.98 L891.14,130.68 L892.21,131.37 L893.24,132.07 L894.20,132.76 L895.06,133.46 L895.79,134.16 L896.38,134.85 L896.79,135.55 L897.02,136.25 L897.06,136.94 L896.91,137.64 L896.57,138.34 L896.06,139.04 L895.39,139.73 L894.58,140.43 L893.66,141.13 L892.66,141.83 L891.61,142.53 L890.54,143.23 L889.48,143.93 L888.48,144.63 L887.56,145.33 L886.76,146.03 L886.09,146.72 L885.58,147.42 L885.25,148.12 L885.10,148.82 L885.14,149.52 L885.38,150.21 L885.79,150.91 L886.38,151.61 L887.11,152.30 L887.98,153.00 L888.94,153.69 L889.97,154.39 L891.04,155.08 L892.11,155.78 L893.15,156.47 L894.12,157.17 L894.99,157.86 L895.75,158.56 L896.35,159.26 L896.79,159.95 L897.05,160.65 L897.11,161.35 L896.99,162.04 L896.68,162.74 L896.19,163.44 L895.54,164.14 L894.75,164.84 L893.84,165.54 L892.85,166.24 L891.80,166.93 L890.73,167.63 L889.67,168.33 L888.66,169.03 L887.73,169.73 L886.91,170.43 L886.22,171.13 L885.69,171.83 L885.33,172.52 L885.15,173.22 L885.17,173.92 L885.38,174.62 L885.77,175.31 L886.33,176.01 L887.05,176.70 L887.90,177.40 L888.85,178.10 L889.87,178.79 L890.94,179.49 L892.01,180.18 L893.05,180.88 L894.03,181.57 L894.93,182.27 L895.70,182.96 L896.32,183.66 L896.78,184.36 L897.07,185.05 L897.16,185.75 L897.06,186.45 L896.78,187.15 L896.31,187.84 L895.68,188.54 L894.91,189.24 L894.02,189.94 L893.04,190.64 L891.99,191.34 L890.92,192.04 L889.86,192.74 L888.84,193.44 L887.90,194.13 L887.06,194.83 L886.35,195.53 L885.79,196.23 L885.41,196.93 L885.21,197.63 L885.20,198.32 L885.39,199.02 L885.75,199.72 L886.29,200.41 L886.99,201.11 L887.82,201.80 L888.76,202.50 L889.77,203.20 L890.83,203.89 L891.91,204.59 L892.96,205.28 L893.95,205.98 L894.86,206.67 L895.64,207.37 L896.29,208.06 L896.78,208.76 L897.09,209.46 L897.21,210.15 L897.13,210.85 L896.87,211.55 L896.43,212.25 L895.83,212.95 L895.07,213.64 L894.19,214.34 L893.22,215.04 L892.19,215.74 L891.12,216.44 L890.05,217.14 L889.03,217.84 L888.07,218.54 L887.21,219.24 L886.49,219.94 L885.91,220.63 L885.50,221.33 L885.27,222.03 L885.24,222.73 L885.40,223.42 L885.74,224.12 L886.25,224.82 L886.93,225.51 L887.74,226.21 L888.67,226.90 L889.68,227.60 L890.73,228.29 L891.80,228.99 L892.86,229.68 L893.86,230.38 L894.78,231.08 L895.59,231.77 L896.26,232.47 L896.77,233.16 L897.10,233.86 L897.25,234.56 L897.20,235.25 L896.97,235.95 L896.55,236.65 L895.97,237.35 L895.23,238.05 L894.37,238.75 L893.41,239.45 L892.38,240.14 L891.31,240.84 L890.25,241.54 L889.21,242.24 L888.24,242.94 L887.37,243.64 L886.62,244.34 L886.02,245.04 L885.59,245.74 L885.34,246.43 L885.28,247.13 L885.41,247.83 L885.73,248.52 L886.22,249.22 L886.87,249.92 L887.67,250.61 L888.58,251.31 L889.58,252.00 L891.60,255.50" fill="none" stroke="#8a8a8a" stroke-width="4.2" stroke-linejoin="round"/><polygon points="891.60,261.00 886.10,255.50 897.10,255.50" fill="#000"/>
<path d="M906.61,103.92 L906.92,104.54 L907.42,105.08 L908.10,105.52 L908.94,105.88 L909.93,106.17 L911.05,106.40 L912.27,106.57 L913.57,106.71 L914.91,106.82 L916.26,106.93 L917.59,107.05 L918.87,107.20 L920.07,107.39 L921.15,107.63 L922.11,107.93 L922.91,108.32 L923.54,108.78 L923.99,109.34 L924.26,109.98 L924.35,110.72 L924.26,111.54 L924.01,112.45 L923.62,113.42 L923.10,114.46 L922.49,115.54 L921.80,116.66 L921.08,117.80 L920.35,118.94 L919.65,120.07 L919.00,121.17 L918.44,122.23 L918.00,123.23 L917.69,124.16 L917.54,125.01 L917.56,125.78 L917.76,126.46 L918.14,127.05 L918.71,127.55 L919.44,127.97 L920.34,128.30 L921.38,128.57 L922.54,128.77 L923.79,128.93 L925.10,129.06 L926.45,129.17 L927.80,129.28 L929.11,129.41 L930.37,129.57 L931.53,129.77 L932.57,130.04 L933.47,130.37 L934.21,130.78 L934.78,131.28 L935.17,131.87 L935.37,132.54 L935.40,133.31 L935.25,134.16 L934.95,135.09 L934.51,136.09 L933.95,137.15 L933.31,138.25 L932.61,139.37 L931.88,140.51 L931.16,141.65 L930.47,142.77 L929.85,143.86 L929.33,144.90 L928.93,145.87 L928.68,146.78 L928.59,147.60 L928.67,148.34 L928.93,148.99 L929.38,149.55 L930.01,150.02 L930.81,150.40 L931.76,150.71 L932.84,150.95 L934.03,151.14 L935.31,151.29 L936.64,151.41 L937.99,151.52 L939.33,151.63 L940.63,151.77 L941.85,151.94 L942.97,152.17 L943.97,152.45 L944.81,152.81 L945.50,153.26 L946.00,153.78 L946.32,154.40 L946.46,155.11 L946.43,155.91 L946.22,156.79 L945.87,157.75 L945.38,158.77 L944.79,159.84 L944.13,160.95 L943.41,162.09 L942.68,163.23 L941.97,164.36 L941.30,165.47 L940.71,166.54 L940.23,167.56 L939.88,168.51 L939.69,169.39 L939.66,170.19 L939.80,170.89 L940.13,171.51 L940.65,172.03 L941.33,172.47 L942.19,172.83 L943.19,173.11 L944.31,173.33 L945.54,173.51 L946.84,173.64 L948.18,173.76 L949.53,173.87 L950.86,173.99 L952.13,174.14 L953.32,174.33 L954.40,174.57 L955.35,174.88 L956.14,175.27 L956.76,175.74 L957.20,176.30 L957.45,176.95 L957.53,177.70 L957.43,178.53 L957.17,179.43 L956.77,180.41 L956.25,181.45 L955.62,182.54 L954.94,183.66 L954.21,184.80 L953.48,185.94 L952.78,187.07 L952.14,188.17 L951.59,189.22 L951.15,190.22 L950.86,191.14 L950.72,191.99 L950.75,192.76 L950.96,193.43 L951.36,194.01 L951.93,194.51 L952.68,194.92 L953.59,195.25 L954.63,195.51 L955.80,195.71 L957.06,195.87 L958.37,195.99 L959.72,196.10 L961.07,196.22 L962.38,196.35 L963.63,196.51 L964.78,196.71 L965.82,196.98 L966.71,197.32 L967.44,197.74 L967.99,198.24 L968.37,198.83 L968.56,199.52 L968.58,200.29 L968.42,201.15 L968.11,202.08 L967.66,203.09 L967.09,204.14 L966.45,205.24 L965.74,206.37 L965.01,207.52 L964.29,208.65 L963.61,209.77 L962.99,210.85 L962.48,211.89 L962.09,212.86 L961.85,213.76 L961.77,214.58 L961.86,215.31 L962.14,215.96 L962.60,216.51 L963.24,216.97 L964.05,217.35 L965.01,217.66 L966.10,217.89 L967.30,218.08 L968.58,218.22 L969.91,218.34 L971.26,218.45 L972.60,218.57 L973.89,218.71 L975.11,218.88 L976.22,219.11 L977.21,219.40 L978.05,219.77 L978.72,220.21 L979.21,220.75 L979.52,221.37 L979.65,222.09 L979.60,222.89 L979.39,223.78 L979.02,224.74 L978.53,225.76 L977.93,226.84 L977.26,227.95 L976.54,229.09 L975.81,230.23 L975.10,231.36 L974.44,232.47 L973.86,233.54 L979.20,239.40" fill="none" stroke="#8a8a8a" stroke-width="2.8" stroke-linejoin="round"/><polygon points="981.50,244.20 975.28,241.64 983.40,237.75" fill="#000"/>
<line x1="861.47" y1="109.33" x2="806.43" y2="265.37" stroke="#000" stroke-width="3.0" /><polygon points="803.10,274.80 800.85,260.75 813.67,265.27" fill="#000"/><polygon points="864.80,99.90 867.05,113.95 854.23,109.43" fill="#000"/>
<line x1="873.60" y1="113.80" x2="873.60" y2="247.70" stroke="#000" stroke-width="7" /><polygon points="873.60,260.90 863.90,244.40 883.30,244.40" fill="#000"/><polygon points="873.60,100.60 883.30,117.10 863.90,117.10" fill="#000"/>
<line x1="901.98" y1="109.73" x2="958.92" y2="236.97" stroke="#000" stroke-width="3.0" /><polygon points="963.00,246.10 951.69,237.47 964.10,231.91" fill="#000"/><polygon points="897.90,100.60 909.21,109.23 896.80,114.79" fill="#000"/>
<circle cx="882" cy="263.4" r="5.8" fill="#0b0b26"/>
<text x="795.6" y="369.2" text-anchor="middle" style="font-family:'Liberation Serif', 'DejaVu Serif', serif;font-size:27.5px;font-style:italic;" textLength="21" lengthAdjust="spacingAndGlyphs">D</text>
<text x="811.0" y="375.8" text-anchor="middle" style="font-family:'Liberation Serif', 'DejaVu Serif', serif;font-size:19px;">1</text>
<text x="824.4" y="355.7" text-anchor="middle" style="font-family:'Liberation Serif', 'DejaVu Serif', serif;font-size:19px;" textLength="34" lengthAdjust="spacingAndGlyphs">(10)</text>
<text x="912.5" y="369.2" text-anchor="middle" style="font-family:'Liberation Serif', 'DejaVu Serif', serif;font-size:27.5px;" textLength="120" lengthAdjust="spacingAndGlyphs">transitions</text>
<text x="830.7" y="405.0" text-anchor="middle" style="font-family:'Liberation Serif', 'DejaVu Serif', serif;font-size:27.5px;" textLength="58" lengthAdjust="spacingAndGlyphs">(F=1</text>
<text x="872.8" y="405.0" text-anchor="middle" style="font-family:'DejaVu Sans', sans-serif;font-size:27.5px;" textLength="23.5" lengthAdjust="spacingAndGlyphs">→</text>
<text x="919.0" y="405.0" text-anchor="middle" style="font-family:'Liberation Serif', 'DejaVu Serif', serif;font-size:27.5px;" textLength="66" lengthAdjust="spacingAndGlyphs">F’=0)</text>
</svg>
</body></html>
